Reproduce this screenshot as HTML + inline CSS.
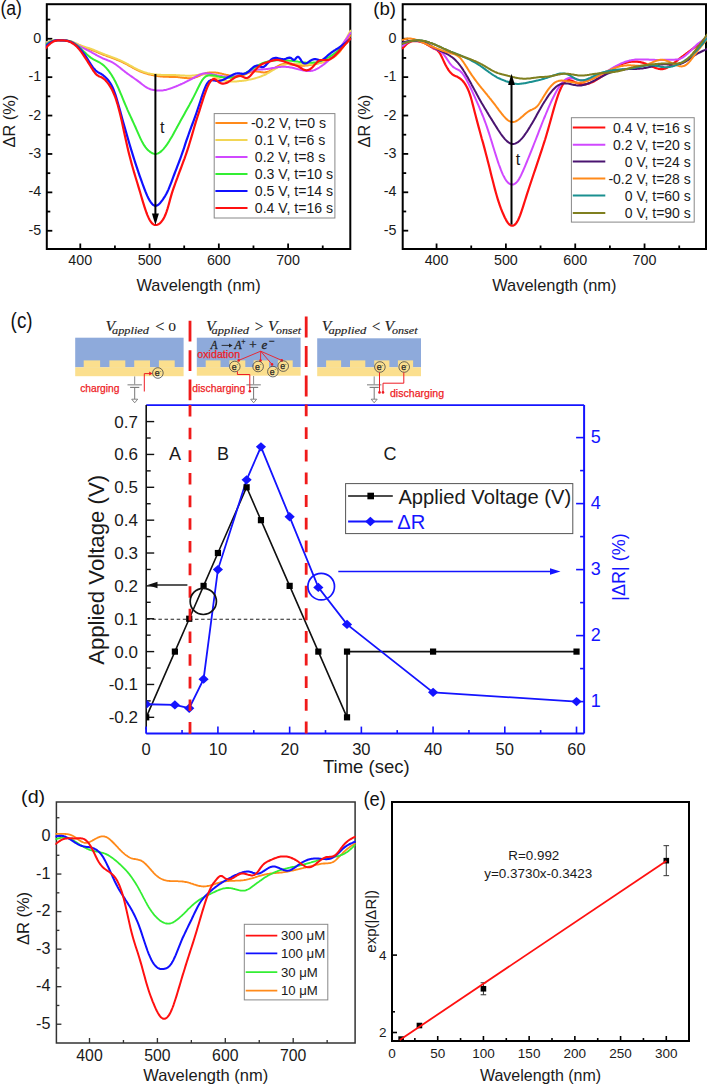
<!DOCTYPE html>
<html><head><meta charset="utf-8"><style>
html,body{margin:0;padding:0;background:#fff;width:708px;height:1086px;overflow:hidden;}
svg{display:block;font-family:"Liberation Sans",sans-serif;}
</style></head><body>
<svg width="708" height="1086" viewBox="0 0 708 1086">
<rect width="708" height="1086" fill="#fff"/>
<rect x="46.80" y="4.20" width="303.50" height="244.80" fill="none" stroke="#000" stroke-width="2.00"/>
<line x1="80.29" y1="249.00" x2="80.29" y2="243.50" stroke="#000" stroke-width="1.80" />
<text x="80.29" y="265.00" font-size="14.30" fill="#1a1a1a" text-anchor="middle">400</text>
<line x1="149.56" y1="249.00" x2="149.56" y2="243.50" stroke="#000" stroke-width="1.80" />
<text x="149.56" y="265.00" font-size="14.30" fill="#1a1a1a" text-anchor="middle">500</text>
<line x1="218.83" y1="249.00" x2="218.83" y2="243.50" stroke="#000" stroke-width="1.80" />
<text x="218.83" y="265.00" font-size="14.30" fill="#1a1a1a" text-anchor="middle">600</text>
<line x1="288.11" y1="249.00" x2="288.11" y2="243.50" stroke="#000" stroke-width="1.80" />
<text x="288.11" y="265.00" font-size="14.30" fill="#1a1a1a" text-anchor="middle">700</text>
<line x1="114.93" y1="249.00" x2="114.93" y2="245.50" stroke="#000" stroke-width="1.80" />
<line x1="184.20" y1="249.00" x2="184.20" y2="245.50" stroke="#000" stroke-width="1.80" />
<line x1="253.47" y1="249.00" x2="253.47" y2="245.50" stroke="#000" stroke-width="1.80" />
<line x1="322.74" y1="249.00" x2="322.74" y2="245.50" stroke="#000" stroke-width="1.80" />
<line x1="46.80" y1="19.56" x2="50.30" y2="19.56" stroke="#000" stroke-width="1.80" />
<line x1="46.80" y1="38.76" x2="52.30" y2="38.76" stroke="#000" stroke-width="1.80" />
<text x="41.20" y="42.86" font-size="14.30" fill="#1a1a1a" text-anchor="end">0</text>
<line x1="46.80" y1="57.96" x2="50.30" y2="57.96" stroke="#000" stroke-width="1.80" />
<line x1="46.80" y1="77.16" x2="52.30" y2="77.16" stroke="#000" stroke-width="1.80" />
<text x="41.20" y="81.26" font-size="14.30" fill="#1a1a1a" text-anchor="end">-1</text>
<line x1="46.80" y1="96.36" x2="50.30" y2="96.36" stroke="#000" stroke-width="1.80" />
<line x1="46.80" y1="115.56" x2="52.30" y2="115.56" stroke="#000" stroke-width="1.80" />
<text x="41.20" y="119.66" font-size="14.30" fill="#1a1a1a" text-anchor="end">-2</text>
<line x1="46.80" y1="134.76" x2="50.30" y2="134.76" stroke="#000" stroke-width="1.80" />
<line x1="46.80" y1="153.96" x2="52.30" y2="153.96" stroke="#000" stroke-width="1.80" />
<text x="41.20" y="158.06" font-size="14.30" fill="#1a1a1a" text-anchor="end">-3</text>
<line x1="46.80" y1="173.17" x2="50.30" y2="173.17" stroke="#000" stroke-width="1.80" />
<line x1="46.80" y1="192.37" x2="52.30" y2="192.37" stroke="#000" stroke-width="1.80" />
<text x="41.20" y="196.47" font-size="14.30" fill="#1a1a1a" text-anchor="end">-4</text>
<line x1="46.80" y1="211.57" x2="50.30" y2="211.57" stroke="#000" stroke-width="1.80" />
<line x1="46.80" y1="230.77" x2="52.30" y2="230.77" stroke="#000" stroke-width="1.80" />
<text x="41.20" y="234.87" font-size="14.30" fill="#1a1a1a" text-anchor="end">-5</text>
<clipPath id="clip46_4"><rect x="45.80" y="1.20" width="305.50" height="247.80"/></clipPath>
<g clip-path="url(#clip46_4)" fill="none" stroke-linejoin="round" stroke-linecap="round">
<path d="M45.4,43.4 46.4,43.0 47.4,42.6 48.4,42.2 49.4,41.9 50.4,41.6 51.4,41.3 52.4,41.0 53.4,40.8 54.4,40.6 55.4,40.5 56.4,40.4 57.4,40.3 58.4,40.3 59.4,40.3 60.4,40.3 61.4,40.3 62.4,40.3 63.4,40.4 64.4,40.5 65.4,40.5 66.4,40.7 67.4,40.8 68.4,41.0 69.4,41.2 70.4,41.5 71.4,41.8 72.4,42.2 73.4,42.6 74.4,43.0 75.4,43.5 76.4,43.9 77.4,44.4 78.4,44.9 79.4,45.3 80.4,45.7 81.4,46.1 82.4,46.5 83.4,46.9 84.4,47.3 85.4,47.6 86.4,48.0 87.4,48.3 88.4,48.7 89.4,49.0 90.4,49.4 91.4,49.8 92.4,50.2 93.4,50.6 94.4,51.0 95.4,51.4 96.4,51.8 97.4,52.2 98.4,52.7 99.4,53.1 100.4,53.5 101.4,53.9 102.4,54.3 103.4,54.7 104.4,55.1 105.4,55.4 106.4,55.8 107.4,56.2 108.4,56.5 109.4,56.9 110.4,57.3 111.4,57.6 112.4,58.0 113.4,58.4 114.4,58.8 115.4,59.1 116.4,59.5 117.4,60.0 118.4,60.4 119.4,60.8 120.4,61.2 121.4,61.7 122.4,62.2 123.4,62.7 124.4,63.1 125.4,63.7 126.4,64.2 127.4,64.7 128.4,65.3 129.4,65.8 130.4,66.4 131.4,66.9 132.4,67.5 133.4,68.0 134.4,68.6 135.4,69.1 136.4,69.6 137.4,70.1 138.4,70.6 139.4,71.0 140.4,71.5 141.4,71.9 142.4,72.3 143.4,72.6 144.4,73.0 145.4,73.3 146.4,73.6 147.4,73.9 148.4,74.2 149.4,74.4 150.4,74.6 151.4,74.9 152.4,75.1 153.4,75.3 154.4,75.5 155.4,75.6 156.4,75.8 157.4,76.0 158.4,76.2 159.4,76.3 160.4,76.4 161.4,76.6 162.4,76.6 163.4,76.7 164.4,76.8 165.4,76.8 166.4,76.8 167.4,76.8 168.4,76.8 169.4,76.9 170.4,76.9 171.4,76.9 172.4,76.9 173.4,76.9 174.4,76.9 175.4,77.0 176.4,77.0 177.4,77.1 178.4,77.2 179.4,77.3 180.4,77.4 181.4,77.5 182.4,77.7 183.4,77.8 184.4,77.9 185.4,78.0 186.4,78.1 187.4,78.2 188.4,78.3 189.4,78.3 190.4,78.3 191.4,78.2 192.4,78.1 193.4,77.9 194.4,77.7 195.4,77.4 196.4,77.1 197.4,76.7 198.4,76.2 199.4,75.8 200.4,75.3 201.4,74.9 202.4,74.4 203.4,74.0 204.4,73.6 205.4,73.3 206.4,73.1 207.4,72.8 208.4,72.7 209.4,72.5 210.4,72.4 211.4,72.4 212.4,72.4 213.4,72.4 214.4,72.5 215.4,72.6 216.4,72.7 217.4,72.8 218.4,73.0 219.4,73.2 220.4,73.4 221.4,73.6 222.4,73.9 223.4,74.1 224.4,74.4 225.4,74.6 226.4,74.9 227.4,75.1 228.4,75.3 229.4,75.6 230.4,75.8 231.4,76.0 232.4,76.2 233.4,76.3 234.4,76.4 235.4,76.5 236.4,76.5 237.4,76.5 238.4,76.4 239.4,76.3 240.4,76.1 241.4,75.8 242.4,75.5 243.4,75.1 244.4,74.7 245.4,74.2 246.4,73.8 247.4,73.3 248.4,72.9 249.4,72.5 250.4,72.1 251.4,71.8 252.4,71.6 253.4,71.4 254.4,71.3 255.4,71.3 256.4,71.4 257.4,71.5 258.4,71.7 259.4,71.8 260.4,72.0 261.4,72.2 262.4,72.3 263.4,72.4 264.4,72.4 265.4,72.3 266.4,72.1 267.4,71.9 268.4,71.5 269.4,71.1 270.4,70.6 271.4,70.0 272.4,69.4 273.4,68.8 274.4,68.2 275.4,67.6 276.4,66.9 277.4,66.4 278.4,65.8 279.4,65.3 280.4,64.9 281.4,64.5 282.4,64.3 283.4,64.1 284.4,64.0 285.4,63.9 286.4,63.9 287.4,64.0 288.4,64.1 289.4,64.3 290.4,64.4 291.4,64.6 292.4,64.8 293.4,64.9 294.4,65.1 295.4,65.2 296.4,65.3 297.4,65.4 298.4,65.5 299.4,65.6 300.4,65.7 301.4,65.7 302.4,65.7 303.4,65.7 304.4,65.7 305.4,65.6 306.4,65.5 307.4,65.4 308.4,65.3 309.4,65.1 310.4,64.9 311.4,64.8 312.4,64.6 313.4,64.4 314.4,64.2 315.4,63.9 316.4,63.7 317.4,63.5 318.4,63.2 319.4,63.0 320.4,62.8 321.4,62.5 322.4,62.2 323.4,61.9 324.4,61.6 325.4,61.3 326.4,60.9 327.4,60.5 328.4,60.1 329.4,59.6 330.4,59.1 331.4,58.6 332.4,58.0 333.4,57.4 334.4,56.6 335.4,55.9 336.4,55.0 337.4,54.1 338.4,53.1 339.4,52.0 340.4,50.8 341.4,49.5 342.4,48.1 343.4,46.7 344.4,45.2 345.4,43.6 346.4,42.0 347.4,40.4 348.4,38.7 349.4,37.0 350.4,35.3" stroke="#ff8a1a" stroke-width="2.00"/>
<path d="M45.4,42.6 46.4,42.3 47.4,41.9 48.4,41.6 49.4,41.3 50.4,41.1 51.4,40.8 52.4,40.6 53.4,40.5 54.4,40.4 55.4,40.3 56.4,40.3 57.4,40.3 58.4,40.3 59.4,40.3 60.4,40.3 61.4,40.3 62.4,40.3 63.4,40.3 64.4,40.4 65.4,40.4 66.4,40.5 67.4,40.6 68.4,40.7 69.4,40.9 70.4,41.1 71.4,41.4 72.4,41.8 73.4,42.2 74.4,42.6 75.4,43.1 76.4,43.5 77.4,44.0 78.4,44.5 79.4,44.9 80.4,45.3 81.4,45.7 82.4,46.1 83.4,46.4 84.4,46.7 85.4,47.1 86.4,47.4 87.4,47.7 88.4,48.0 89.4,48.3 90.4,48.6 91.4,49.0 92.4,49.4 93.4,49.8 94.4,50.2 95.4,50.6 96.4,51.0 97.4,51.4 98.4,51.9 99.4,52.3 100.4,52.7 101.4,53.1 102.4,53.5 103.4,53.9 104.4,54.3 105.4,54.7 106.4,55.0 107.4,55.4 108.4,55.8 109.4,56.1 110.4,56.5 111.4,56.9 112.4,57.2 113.4,57.6 114.4,58.0 115.4,58.4 116.4,58.8 117.4,59.2 118.4,59.6 119.4,60.0 120.4,60.5 121.4,60.9 122.4,61.4 123.4,61.9 124.4,62.4 125.4,62.9 126.4,63.4 127.4,64.0 128.4,64.5 129.4,65.1 130.4,65.6 131.4,66.2 132.4,66.7 133.4,67.3 134.4,67.8 135.4,68.3 136.4,68.9 137.4,69.3 138.4,69.8 139.4,70.3 140.4,70.7 141.4,71.1 142.4,71.5 143.4,71.9 144.4,72.2 145.4,72.6 146.4,72.8 147.4,73.1 148.4,73.4 149.4,73.6 150.4,73.8 151.4,73.9 152.4,74.1 153.4,74.2 154.4,74.4 155.4,74.5 156.4,74.6 157.4,74.7 158.4,74.7 159.4,74.8 160.4,74.8 161.4,74.9 162.4,74.9 163.4,75.0 164.4,75.0 165.4,75.0 166.4,75.0 167.4,75.0 168.4,75.0 169.4,75.0 170.4,75.0 171.4,75.1 172.4,75.1 173.4,75.1 174.4,75.1 175.4,75.1 176.4,75.2 177.4,75.2 178.4,75.2 179.4,75.3 180.4,75.4 181.4,75.4 182.4,75.5 183.4,75.6 184.4,75.6 185.4,75.7 186.4,75.7 187.4,75.8 188.4,75.8 189.4,75.8 190.4,75.7 191.4,75.7 192.4,75.6 193.4,75.5 194.4,75.4 195.4,75.2 196.4,75.1 197.4,74.9 198.4,74.8 199.4,74.6 200.4,74.5 201.4,74.4 202.4,74.4 203.4,74.3 204.4,74.3 205.4,74.4 206.4,74.5 207.4,74.7 208.4,74.9 209.4,75.2 210.4,75.5 211.4,75.9 212.4,76.2 213.4,76.6 214.4,77.0 215.4,77.5 216.4,77.9 217.4,78.3 218.4,78.7 219.4,79.1 220.4,79.5 221.4,79.8 222.4,80.1 223.4,80.4 224.4,80.6 225.4,80.8 226.4,81.0 227.4,81.1 228.4,81.3 229.4,81.4 230.4,81.4 231.4,81.5 232.4,81.5 233.4,81.5 234.4,81.5 235.4,81.4 236.4,81.4 237.4,81.3 238.4,81.2 239.4,81.1 240.4,81.0 241.4,80.9 242.4,80.8 243.4,80.7 244.4,80.5 245.4,80.4 246.4,80.2 247.4,80.0 248.4,79.8 249.4,79.6 250.4,79.4 251.4,79.2 252.4,79.0 253.4,78.7 254.4,78.5 255.4,78.2 256.4,77.9 257.4,77.6 258.4,77.3 259.4,77.0 260.4,76.6 261.4,76.2 262.4,75.8 263.4,75.4 264.4,75.0 265.4,74.5 266.4,74.0 267.4,73.4 268.4,72.9 269.4,72.3 270.4,71.7 271.4,71.1 272.4,70.5 273.4,69.9 274.4,69.3 275.4,68.7 276.4,68.1 277.4,67.6 278.4,67.0 279.4,66.6 280.4,66.1 281.4,65.7 282.4,65.3 283.4,65.0 284.4,64.7 285.4,64.5 286.4,64.2 287.4,64.1 288.4,63.9 289.4,63.8 290.4,63.8 291.4,63.7 292.4,63.7 293.4,63.7 294.4,63.8 295.4,63.8 296.4,63.9 297.4,63.9 298.4,64.0 299.4,64.1 300.4,64.2 301.4,64.3 302.4,64.4 303.4,64.4 304.4,64.5 305.4,64.5 306.4,64.5 307.4,64.5 308.4,64.5 309.4,64.5 310.4,64.4 311.4,64.4 312.4,64.3 313.4,64.1 314.4,64.0 315.4,63.9 316.4,63.7 317.4,63.5 318.4,63.3 319.4,63.1 320.4,62.8 321.4,62.6 322.4,62.2 323.4,61.9 324.4,61.5 325.4,61.1 326.4,60.7 327.4,60.2 328.4,59.6 329.4,59.1 330.4,58.4 331.4,57.8 332.4,57.0 333.4,56.2 334.4,55.3 335.4,54.4 336.4,53.3 337.4,52.2 338.4,51.0 339.4,49.7 340.4,48.3 341.4,46.8 342.4,45.2 343.4,43.6 344.4,41.8 345.4,40.1 346.4,38.2 347.4,36.4 348.4,34.5 349.4,32.6 350.4,30.7" stroke="#f2d655" stroke-width="2.00"/>
<path d="M45.4,43.8 46.4,43.3 47.4,42.8 48.4,42.4 49.4,42.0 50.4,41.6 51.4,41.3 52.4,41.0 53.4,40.8 54.4,40.6 55.4,40.5 56.4,40.4 57.4,40.3 58.4,40.3 59.4,40.3 60.4,40.3 61.4,40.3 62.4,40.3 63.4,40.4 64.4,40.4 65.4,40.5 66.4,40.6 67.4,40.7 68.4,40.9 69.4,41.2 70.4,41.5 71.4,41.8 72.4,42.2 73.4,42.7 74.4,43.2 75.4,43.8 76.4,44.4 77.4,44.9 78.4,45.5 79.4,46.1 80.4,46.6 81.4,47.2 82.4,47.7 83.4,48.2 84.4,48.7 85.4,49.2 86.4,49.7 87.4,50.1 88.4,50.6 89.4,51.1 90.4,51.7 91.4,52.2 92.4,52.8 93.4,53.3 94.4,53.9 95.4,54.5 96.4,55.0 97.4,55.6 98.4,56.1 99.4,56.7 100.4,57.2 101.4,57.7 102.4,58.2 103.4,58.6 104.4,59.0 105.4,59.4 106.4,59.8 107.4,60.2 108.4,60.6 109.4,61.0 110.4,61.4 111.4,61.9 112.4,62.4 113.4,63.0 114.4,63.6 115.4,64.3 116.4,65.0 117.4,65.7 118.4,66.5 119.4,67.2 120.4,68.0 121.4,68.9 122.4,69.7 123.4,70.5 124.4,71.3 125.4,72.1 126.4,72.8 127.4,73.6 128.4,74.3 129.4,75.0 130.4,75.7 131.4,76.4 132.4,77.1 133.4,77.8 134.4,78.5 135.4,79.2 136.4,79.9 137.4,80.6 138.4,81.4 139.4,82.1 140.4,82.9 141.4,83.7 142.4,84.5 143.4,85.2 144.4,86.0 145.4,86.7 146.4,87.3 147.4,87.9 148.4,88.4 149.4,88.8 150.4,89.2 151.4,89.5 152.4,89.7 153.4,89.9 154.4,90.1 155.4,90.3 156.4,90.4 157.4,90.5 158.4,90.6 159.4,90.6 160.4,90.6 161.4,90.5 162.4,90.4 163.4,90.3 164.4,90.1 165.4,89.9 166.4,89.7 167.4,89.4 168.4,89.1 169.4,88.8 170.4,88.5 171.4,88.1 172.4,87.8 173.4,87.4 174.4,87.0 175.4,86.6 176.4,86.2 177.4,85.8 178.4,85.4 179.4,84.9 180.4,84.5 181.4,84.0 182.4,83.6 183.4,83.1 184.4,82.7 185.4,82.2 186.4,81.7 187.4,81.2 188.4,80.7 189.4,80.2 190.4,79.6 191.4,79.1 192.4,78.6 193.4,78.0 194.4,77.5 195.4,76.9 196.4,76.4 197.4,75.9 198.4,75.4 199.4,74.9 200.4,74.5 201.4,74.1 202.4,73.8 203.4,73.6 204.4,73.4 205.4,73.3 206.4,73.3 207.4,73.4 208.4,73.5 209.4,73.6 210.4,73.8 211.4,74.0 212.4,74.3 213.4,74.5 214.4,74.7 215.4,74.9 216.4,75.1 217.4,75.4 218.4,75.6 219.4,75.8 220.4,75.9 221.4,76.1 222.4,76.3 223.4,76.4 224.4,76.5 225.4,76.6 226.4,76.7 227.4,76.8 228.4,76.8 229.4,76.8 230.4,76.8 231.4,76.7 232.4,76.6 233.4,76.5 234.4,76.4 235.4,76.2 236.4,76.0 237.4,75.8 238.4,75.5 239.4,75.3 240.4,75.0 241.4,74.6 242.4,74.3 243.4,73.9 244.4,73.5 245.4,73.1 246.4,72.7 247.4,72.3 248.4,71.9 249.4,71.5 250.4,71.1 251.4,70.8 252.4,70.5 253.4,70.3 254.4,70.0 255.4,69.9 256.4,69.7 257.4,69.6 258.4,69.6 259.4,69.5 260.4,69.4 261.4,69.4 262.4,69.4 263.4,69.3 264.4,69.2 265.4,69.2 266.4,69.1 267.4,69.0 268.4,68.8 269.4,68.7 270.4,68.5 271.4,68.3 272.4,68.1 273.4,67.9 274.4,67.8 275.4,67.6 276.4,67.4 277.4,67.2 278.4,67.1 279.4,67.0 280.4,66.9 281.4,66.8 282.4,66.8 283.4,66.7 284.4,66.8 285.4,66.8 286.4,66.9 287.4,67.0 288.4,67.1 289.4,67.2 290.4,67.4 291.4,67.6 292.4,67.8 293.4,68.0 294.4,68.2 295.4,68.5 296.4,68.7 297.4,69.0 298.4,69.2 299.4,69.5 300.4,69.7 301.4,70.0 302.4,70.2 303.4,70.4 304.4,70.6 305.4,70.7 306.4,70.9 307.4,71.0 308.4,71.0 309.4,71.0 310.4,71.0 311.4,70.8 312.4,70.7 313.4,70.4 314.4,70.1 315.4,69.7 316.4,69.2 317.4,68.7 318.4,68.1 319.4,67.5 320.4,66.8 321.4,66.1 322.4,65.4 323.4,64.7 324.4,63.9 325.4,63.1 326.4,62.3 327.4,61.4 328.4,60.5 329.4,59.6 330.4,58.7 331.4,57.7 332.4,56.7 333.4,55.6 334.4,54.5 335.4,53.4 336.4,52.2 337.4,51.0 338.4,49.7 339.4,48.4 340.4,47.1 341.4,45.8 342.4,44.4 343.4,43.0 344.4,41.6 345.4,40.2 346.4,38.8 347.4,37.4 348.4,35.9 349.4,34.5 350.4,33.0" stroke="#d048ff" stroke-width="2.00"/>
<path d="M45.4,44.5 46.4,43.9 47.4,43.3 48.4,42.8 49.4,42.2 50.4,41.8 51.4,41.3 52.4,41.0 53.4,40.7 54.4,40.5 55.4,40.4 56.4,40.3 57.4,40.3 58.4,40.2 59.4,40.2 60.4,40.3 61.4,40.3 62.4,40.3 63.4,40.4 64.4,40.4 65.4,40.5 66.4,40.6 67.4,40.7 68.4,40.9 69.4,41.1 70.4,41.4 71.4,41.8 72.4,42.3 73.4,42.8 74.4,43.4 75.4,44.1 76.4,44.8 77.4,45.6 78.4,46.4 79.4,47.3 80.4,48.2 81.4,49.1 82.4,50.1 83.4,51.1 84.4,52.1 85.4,53.0 86.4,54.0 87.4,54.9 88.4,55.8 89.4,56.6 90.4,57.4 91.4,58.1 92.4,58.7 93.4,59.3 94.4,59.8 95.4,60.3 96.4,60.8 97.4,61.3 98.4,61.9 99.4,62.4 100.4,63.0 101.4,63.7 102.4,64.4 103.4,65.2 104.4,66.1 105.4,67.1 106.4,68.2 107.4,69.3 108.4,70.5 109.4,71.9 110.4,73.3 111.4,74.8 112.4,76.4 113.4,78.1 114.4,79.9 115.4,81.8 116.4,83.9 117.4,86.0 118.4,88.2 119.4,90.5 120.4,92.9 121.4,95.2 122.4,97.6 123.4,100.1 124.4,102.5 125.4,104.9 126.4,107.2 127.4,109.6 128.4,111.8 129.4,114.0 130.4,116.2 131.4,118.3 132.4,120.5 133.4,122.6 134.4,124.8 135.4,127.0 136.4,129.3 137.4,131.6 138.4,133.9 139.4,136.1 140.4,138.3 141.4,140.4 142.4,142.3 143.4,144.1 144.4,145.7 145.4,147.1 146.4,148.4 147.4,149.5 148.4,150.5 149.4,151.3 150.4,152.1 151.4,152.7 152.4,153.3 153.4,153.6 154.4,153.9 155.4,154.0 156.4,153.9 157.4,153.6 158.4,153.2 159.4,152.6 160.4,151.9 161.4,151.1 162.4,150.1 163.4,149.1 164.4,147.9 165.4,146.7 166.4,145.3 167.4,143.9 168.4,142.4 169.4,140.8 170.4,139.1 171.4,137.4 172.4,135.7 173.4,133.9 174.4,132.1 175.4,130.3 176.4,128.4 177.4,126.6 178.4,124.7 179.4,122.9 180.4,121.1 181.4,119.3 182.4,117.5 183.4,115.7 184.4,113.9 185.4,112.1 186.4,110.3 187.4,108.5 188.4,106.7 189.4,104.9 190.4,103.0 191.4,101.2 192.4,99.3 193.4,97.4 194.4,95.4 195.4,93.4 196.4,91.4 197.4,89.3 198.4,87.3 199.4,85.3 200.4,83.3 201.4,81.5 202.4,79.9 203.4,78.6 204.4,77.5 205.4,76.7 206.4,76.1 207.4,75.7 208.4,75.4 209.4,75.3 210.4,75.2 211.4,75.2 212.4,75.3 213.4,75.4 214.4,75.6 215.4,75.8 216.4,76.0 217.4,76.2 218.4,76.4 219.4,76.7 220.4,76.9 221.4,77.1 222.4,77.3 223.4,77.5 224.4,77.6 225.4,77.7 226.4,77.7 227.4,77.8 228.4,77.8 229.4,77.8 230.4,77.7 231.4,77.6 232.4,77.5 233.4,77.3 234.4,77.1 235.4,76.9 236.4,76.7 237.4,76.4 238.4,76.1 239.4,75.7 240.4,75.4 241.4,75.0 242.4,74.5 243.4,74.1 244.4,73.6 245.4,73.1 246.4,72.5 247.4,72.0 248.4,71.4 249.4,70.8 250.4,70.2 251.4,69.5 252.4,68.9 253.4,68.3 254.4,67.6 255.4,67.0 256.4,66.4 257.4,65.8 258.4,65.2 259.4,64.7 260.4,64.2 261.4,63.7 262.4,63.3 263.4,62.9 264.4,62.5 265.4,62.2 266.4,61.9 267.4,61.6 268.4,61.4 269.4,61.2 270.4,61.0 271.4,60.8 272.4,60.7 273.4,60.6 274.4,60.5 275.4,60.4 276.4,60.3 277.4,60.3 278.4,60.3 279.4,60.3 280.4,60.3 281.4,60.3 282.4,60.3 283.4,60.3 284.4,60.3 285.4,60.4 286.4,60.4 287.4,60.5 288.4,60.6 289.4,60.7 290.4,60.7 291.4,60.8 292.4,60.9 293.4,61.1 294.4,61.2 295.4,61.3 296.4,61.5 297.4,61.6 298.4,61.8 299.4,61.9 300.4,62.0 301.4,62.2 302.4,62.3 303.4,62.4 304.4,62.5 305.4,62.6 306.4,62.7 307.4,62.8 308.4,62.8 309.4,62.8 310.4,62.8 311.4,62.8 312.4,62.7 313.4,62.6 314.4,62.5 315.4,62.4 316.4,62.2 317.4,61.9 318.4,61.7 319.4,61.4 320.4,61.0 321.4,60.7 322.4,60.3 323.4,59.9 324.4,59.4 325.4,58.9 326.4,58.4 327.4,57.9 328.4,57.3 329.4,56.8 330.4,56.2 331.4,55.5 332.4,54.9 333.4,54.2 334.4,53.5 335.4,52.8 336.4,52.1 337.4,51.3 338.4,50.5 339.4,49.6 340.4,48.7 341.4,47.8 342.4,46.9 343.4,45.9 344.4,44.9 345.4,43.9 346.4,42.9 347.4,41.9 348.4,40.9 349.4,39.8 350.4,38.8" stroke="#33ee33" stroke-width="2.00"/>
<path d="M45.4,46.4 46.4,45.6 47.4,44.7 48.4,43.9 49.4,43.2 50.4,42.5 51.4,41.9 52.4,41.4 53.4,41.0 54.4,40.7 55.4,40.4 56.4,40.3 57.4,40.2 58.4,40.2 59.4,40.2 60.4,40.3 61.4,40.3 62.4,40.3 63.4,40.4 64.4,40.5 65.4,40.6 66.4,40.7 67.4,40.9 68.4,41.1 69.4,41.4 70.4,41.8 71.4,42.2 72.4,42.7 73.4,43.3 74.4,44.0 75.4,44.8 76.4,45.6 77.4,46.5 78.4,47.4 79.4,48.4 80.4,49.5 81.4,50.6 82.4,51.8 83.4,53.1 84.4,54.4 85.4,55.8 86.4,57.3 87.4,58.9 88.4,60.5 89.4,62.1 90.4,63.7 91.4,65.2 92.4,66.6 93.4,67.9 94.4,69.1 95.4,70.2 96.4,71.1 97.4,71.9 98.4,72.5 99.4,73.0 100.4,73.6 101.4,74.1 102.4,74.7 103.4,75.5 104.4,76.3 105.4,77.2 106.4,78.2 107.4,79.3 108.4,80.5 109.4,81.9 110.4,83.3 111.4,85.0 112.4,87.0 113.4,89.2 114.4,91.8 115.4,94.7 116.4,97.9 117.4,101.2 118.4,104.7 119.4,108.3 120.4,111.9 121.4,115.5 122.4,119.2 123.4,122.8 124.4,126.3 125.4,129.9 126.4,133.4 127.4,136.9 128.4,140.3 129.4,143.7 130.4,147.1 131.4,150.4 132.4,153.6 133.4,156.8 134.4,160.0 135.4,163.1 136.4,166.1 137.4,169.2 138.4,172.1 139.4,175.1 140.4,177.9 141.4,180.7 142.4,183.5 143.4,186.2 144.4,188.8 145.4,191.4 146.4,193.8 147.4,196.1 148.4,198.2 149.4,200.1 150.4,201.7 151.4,203.1 152.4,204.2 153.4,205.1 154.4,205.6 155.4,205.8 156.4,205.7 157.4,205.3 158.4,204.6 159.4,203.7 160.4,202.7 161.4,201.4 162.4,200.1 163.4,198.7 164.4,197.2 165.4,195.5 166.4,193.7 167.4,191.7 168.4,189.6 169.4,187.2 170.4,184.7 171.4,182.1 172.4,179.4 173.4,176.7 174.4,174.0 175.4,171.4 176.4,168.8 177.4,166.2 178.4,163.6 179.4,161.0 180.4,158.3 181.4,155.5 182.4,152.7 183.4,149.8 184.4,146.8 185.4,143.7 186.4,140.7 187.4,137.8 188.4,135.0 189.4,132.2 190.4,129.4 191.4,126.7 192.4,124.0 193.4,121.3 194.4,118.6 195.4,115.8 196.4,113.0 197.4,110.1 198.4,107.1 199.4,104.1 200.4,101.0 201.4,97.9 202.4,94.9 203.4,92.0 204.4,89.3 205.4,86.9 206.4,84.8 207.4,83.1 208.4,81.8 209.4,80.9 210.4,80.4 211.4,80.2 212.4,80.2 213.4,80.4 214.4,80.5 215.4,80.7 216.4,80.9 217.4,81.0 218.4,81.0 219.4,80.9 220.4,80.7 221.4,80.4 222.4,80.1 223.4,79.7 224.4,79.2 225.4,78.7 226.4,78.2 227.4,77.6 228.4,77.0 229.4,76.5 230.4,75.9 231.4,75.4 232.4,74.9 233.4,74.4 234.4,74.0 235.4,73.7 236.4,73.5 237.4,73.4 238.4,73.3 239.4,73.4 240.4,73.5 241.4,73.6 242.4,73.8 243.4,73.8 244.4,73.7 245.4,73.5 246.4,73.0 247.4,72.4 248.4,71.6 249.4,70.8 250.4,69.8 251.4,68.9 252.4,68.0 253.4,67.2 254.4,66.5 255.4,66.0 256.4,65.7 257.4,65.7 258.4,65.9 259.4,66.3 260.4,66.8 261.4,67.1 262.4,67.2 263.4,66.9 264.4,66.4 265.4,65.6 266.4,64.6 267.4,63.5 268.4,62.4 269.4,61.3 270.4,60.3 271.4,59.4 272.4,58.8 273.4,58.3 274.4,58.0 275.4,57.9 276.4,57.9 277.4,58.0 278.4,58.3 279.4,58.5 280.4,58.8 281.4,59.1 282.4,59.2 283.4,59.3 284.4,59.2 285.4,59.0 286.4,58.6 287.4,58.1 288.4,57.8 289.4,57.6 290.4,57.8 291.4,58.3 292.4,59.2 293.4,59.8 294.4,59.8 295.4,59.0 296.4,57.8 297.4,56.9 298.4,56.9 299.4,57.8 300.4,59.2 301.4,60.8 302.4,62.2 303.4,63.1 304.4,63.5 305.4,63.5 306.4,63.2 307.4,62.7 308.4,62.1 309.4,61.4 310.4,60.7 311.4,60.1 312.4,59.7 313.4,59.3 314.4,59.1 315.4,59.1 316.4,59.3 317.4,59.6 318.4,59.9 319.4,60.2 320.4,60.3 321.4,60.2 322.4,59.8 323.4,59.2 324.4,58.5 325.4,57.6 326.4,56.7 327.4,55.8 328.4,54.9 329.4,54.1 330.4,53.3 331.4,52.5 332.4,51.8 333.4,51.2 334.4,50.5 335.4,49.9 336.4,49.2 337.4,48.6 338.4,48.0 339.4,47.3 340.4,46.6 341.4,45.9 342.4,45.2 343.4,44.4 344.4,43.6 345.4,42.8 346.4,42.0 347.4,41.2 348.4,40.4 349.4,39.6 350.4,38.8" stroke="#1010ff" stroke-width="2.20"/>
<path d="M45.4,48.4 46.4,47.3 47.4,46.3 48.4,45.3 49.4,44.4 50.4,43.5 51.4,42.7 52.4,42.1 53.4,41.6 54.4,41.1 55.4,40.8 56.4,40.6 57.4,40.4 58.4,40.3 59.4,40.3 60.4,40.3 61.4,40.3 62.4,40.3 63.4,40.4 64.4,40.5 65.4,40.6 66.4,40.8 67.4,41.0 68.4,41.3 69.4,41.7 70.4,42.1 71.4,42.6 72.4,43.2 73.4,43.8 74.4,44.5 75.4,45.4 76.4,46.3 77.4,47.3 78.4,48.4 79.4,49.6 80.4,50.9 81.4,52.2 82.4,53.7 83.4,55.1 84.4,56.6 85.4,58.2 86.4,59.7 87.4,61.2 88.4,62.8 89.4,64.3 90.4,65.9 91.4,67.6 92.4,69.2 93.4,70.8 94.4,72.2 95.4,73.5 96.4,74.6 97.4,75.3 98.4,75.9 99.4,76.4 100.4,76.8 101.4,77.2 102.4,77.8 103.4,78.5 104.4,79.3 105.4,80.3 106.4,81.4 107.4,82.6 108.4,83.9 109.4,85.4 110.4,86.9 111.4,88.6 112.4,90.5 113.4,92.7 114.4,95.0 115.4,97.7 116.4,100.6 117.4,103.8 118.4,107.4 119.4,111.2 120.4,115.3 121.4,119.6 122.4,124.1 123.4,128.8 124.4,133.4 125.4,138.0 126.4,142.5 127.4,146.9 128.4,151.2 129.4,155.2 130.4,159.1 131.4,162.9 132.4,166.5 133.4,170.0 134.4,173.4 135.4,176.7 136.4,180.0 137.4,183.3 138.4,186.6 139.4,189.9 140.4,193.3 141.4,196.7 142.4,200.1 143.4,203.4 144.4,206.6 145.4,209.6 146.4,212.5 147.4,215.1 148.4,217.4 149.4,219.5 150.4,221.2 151.4,222.6 152.4,223.7 153.4,224.4 154.4,224.8 155.4,225.0 156.4,225.0 157.4,224.7 158.4,224.3 159.4,223.6 160.4,222.8 161.4,221.7 162.4,220.4 163.4,218.9 164.4,217.0 165.4,214.8 166.4,212.1 167.4,209.1 168.4,205.7 169.4,202.1 170.4,198.4 171.4,194.9 172.4,191.6 173.4,188.6 174.4,185.8 175.4,183.0 176.4,180.3 177.4,177.7 178.4,174.9 179.4,172.2 180.4,169.5 181.4,166.8 182.4,164.1 183.4,161.4 184.4,158.8 185.4,156.0 186.4,153.2 187.4,150.2 188.4,147.1 189.4,143.8 190.4,140.5 191.4,137.1 192.4,133.6 193.4,130.2 194.4,126.8 195.4,123.4 196.4,120.2 197.4,117.0 198.4,113.9 199.4,110.8 200.4,107.7 201.4,104.5 202.4,101.4 203.4,98.2 204.4,95.2 205.4,92.3 206.4,89.6 207.4,87.1 208.4,85.0 209.4,83.1 210.4,81.6 211.4,80.4 212.4,79.6 213.4,79.1 214.4,79.1 215.4,79.5 216.4,80.1 217.4,81.0 218.4,81.8 219.4,82.5 220.4,83.0 221.4,83.4 222.4,83.6 223.4,83.6 224.4,83.5 225.4,83.2 226.4,82.9 227.4,82.4 228.4,81.9 229.4,81.3 230.4,80.6 231.4,79.9 232.4,79.2 233.4,78.5 234.4,77.9 235.4,77.3 236.4,76.7 237.4,76.3 238.4,76.0 239.4,75.9 240.4,76.0 241.4,76.2 242.4,76.6 243.4,77.1 244.4,77.5 245.4,77.9 246.4,78.0 247.4,77.8 248.4,77.4 249.4,76.6 250.4,75.7 251.4,74.6 252.4,73.4 253.4,72.2 254.4,71.0 255.4,69.9 256.4,68.8 257.4,67.8 258.4,66.8 259.4,66.0 260.4,65.2 261.4,64.6 262.4,64.1 263.4,63.6 264.4,63.2 265.4,62.8 266.4,62.5 267.4,62.2 268.4,61.9 269.4,61.6 270.4,61.3 271.4,60.9 272.4,60.6 273.4,60.4 274.4,60.1 275.4,60.0 276.4,59.9 277.4,59.9 278.4,60.0 279.4,60.1 280.4,60.4 281.4,60.6 282.4,60.9 283.4,61.3 284.4,61.6 285.4,61.9 286.4,62.3 287.4,62.6 288.4,62.9 289.4,63.3 290.4,63.6 291.4,63.9 292.4,64.3 293.4,64.6 294.4,64.9 295.4,65.3 296.4,65.6 297.4,66.1 298.4,66.5 299.4,67.1 300.4,67.7 301.4,68.3 302.4,68.9 303.4,69.4 304.4,69.9 305.4,70.2 306.4,70.3 307.4,70.2 308.4,70.0 309.4,69.6 310.4,69.0 311.4,68.2 312.4,67.3 313.4,66.2 314.4,65.1 315.4,64.0 316.4,62.9 317.4,62.0 318.4,61.2 319.4,60.6 320.4,60.2 321.4,60.0 322.4,60.0 323.4,60.0 324.4,60.0 325.4,60.1 326.4,60.1 327.4,60.0 328.4,59.8 329.4,59.4 330.4,58.9 331.4,58.3 332.4,57.6 333.4,56.8 334.4,56.0 335.4,55.0 336.4,54.0 337.4,53.0 338.4,51.9 339.4,50.8 340.4,49.7 341.4,48.6 342.4,47.5 343.4,46.4 344.4,45.3 345.4,44.2 346.4,43.1 347.4,42.1 348.4,41.0 349.4,39.9 350.4,38.8" stroke="#ff1010" stroke-width="2.20"/>
</g>
<text x="198.55" y="290.50" font-size="16.40" fill="#1a1a1a" text-anchor="middle">Wavelength (nm)</text>
<text transform="translate(14.50,121.10) rotate(-90)" font-size="16.40" fill="#1a1a1a" text-anchor="middle">&#916;R (%)</text>
<line x1="155.40" y1="74.00" x2="155.40" y2="214.00" stroke="#000" stroke-width="2.00" />
<polygon points="151.9,213.5 158.9,213.5 155.4,225" fill="#000"/>
<text x="160.10" y="133.00" font-size="16.00" fill="#1a1a1a" text-anchor="start" >t</text>
<rect x="214.20" y="113.60" width="120.70" height="104.40" fill="#fff" stroke="#888" stroke-width="1"/>
<line x1="215.40" y1="123.00" x2="247.50" y2="123.00" stroke="#ff8a1a" stroke-width="2.00" />
<text x="250.90" y="128.08" font-size="14.10" fill="#1a1a1a" text-anchor="start">-0.2 V, t=0 s</text>
<line x1="215.40" y1="140.10" x2="247.50" y2="140.10" stroke="#f2d655" stroke-width="2.00" />
<text x="250.90" y="145.18" font-size="14.10" fill="#1a1a1a" text-anchor="start">&#160;0.1 V, t=6 s</text>
<line x1="215.40" y1="157.10" x2="247.50" y2="157.10" stroke="#d048ff" stroke-width="2.00" />
<text x="250.90" y="162.18" font-size="14.10" fill="#1a1a1a" text-anchor="start">&#160;0.2 V, t=8 s</text>
<line x1="215.40" y1="174.10" x2="247.50" y2="174.10" stroke="#33ee33" stroke-width="2.00" />
<text x="250.90" y="179.18" font-size="14.10" fill="#1a1a1a" text-anchor="start">&#160;0.3 V, t=10 s</text>
<line x1="215.40" y1="191.00" x2="247.50" y2="191.00" stroke="#1010ff" stroke-width="2.00" />
<text x="250.90" y="196.08" font-size="14.10" fill="#1a1a1a" text-anchor="start">&#160;0.5 V, t=14 s</text>
<line x1="215.40" y1="208.00" x2="247.50" y2="208.00" stroke="#ff1010" stroke-width="2.00" />
<text x="250.90" y="213.08" font-size="14.10" fill="#1a1a1a" text-anchor="start">&#160;0.4 V, t=16 s</text>
<text x="0.45" y="15.43" font-size="19.40" fill="#111" textLength="21.55" lengthAdjust="spacingAndGlyphs">(a)</text>
<rect x="402.70" y="4.20" width="303.30" height="244.80" fill="none" stroke="#000" stroke-width="2.00"/>
<line x1="436.56" y1="249.00" x2="436.56" y2="243.50" stroke="#000" stroke-width="1.80" />
<text x="436.56" y="265.00" font-size="14.30" fill="#1a1a1a" text-anchor="middle">400</text>
<line x1="505.89" y1="249.00" x2="505.89" y2="243.50" stroke="#000" stroke-width="1.80" />
<text x="505.89" y="265.00" font-size="14.30" fill="#1a1a1a" text-anchor="middle">500</text>
<line x1="575.23" y1="249.00" x2="575.23" y2="243.50" stroke="#000" stroke-width="1.80" />
<text x="575.23" y="265.00" font-size="14.30" fill="#1a1a1a" text-anchor="middle">600</text>
<line x1="644.55" y1="249.00" x2="644.55" y2="243.50" stroke="#000" stroke-width="1.80" />
<text x="644.55" y="265.00" font-size="14.30" fill="#1a1a1a" text-anchor="middle">700</text>
<line x1="471.23" y1="249.00" x2="471.23" y2="245.50" stroke="#000" stroke-width="1.80" />
<line x1="540.56" y1="249.00" x2="540.56" y2="245.50" stroke="#000" stroke-width="1.80" />
<line x1="609.89" y1="249.00" x2="609.89" y2="245.50" stroke="#000" stroke-width="1.80" />
<line x1="679.22" y1="249.00" x2="679.22" y2="245.50" stroke="#000" stroke-width="1.80" />
<line x1="402.70" y1="19.55" x2="406.20" y2="19.55" stroke="#000" stroke-width="1.80" />
<line x1="402.70" y1="38.75" x2="408.20" y2="38.75" stroke="#000" stroke-width="1.80" />
<text x="396.50" y="42.85" font-size="14.30" fill="#1a1a1a" text-anchor="end">0</text>
<line x1="402.70" y1="57.94" x2="406.20" y2="57.94" stroke="#000" stroke-width="1.80" />
<line x1="402.70" y1="77.13" x2="408.20" y2="77.13" stroke="#000" stroke-width="1.80" />
<text x="396.50" y="81.23" font-size="14.30" fill="#1a1a1a" text-anchor="end">-1</text>
<line x1="402.70" y1="96.33" x2="406.20" y2="96.33" stroke="#000" stroke-width="1.80" />
<line x1="402.70" y1="115.52" x2="408.20" y2="115.52" stroke="#000" stroke-width="1.80" />
<text x="396.50" y="119.62" font-size="14.30" fill="#1a1a1a" text-anchor="end">-2</text>
<line x1="402.70" y1="134.71" x2="406.20" y2="134.71" stroke="#000" stroke-width="1.80" />
<line x1="402.70" y1="153.90" x2="408.20" y2="153.90" stroke="#000" stroke-width="1.80" />
<text x="396.50" y="158.00" font-size="14.30" fill="#1a1a1a" text-anchor="end">-3</text>
<line x1="402.70" y1="173.10" x2="406.20" y2="173.10" stroke="#000" stroke-width="1.80" />
<line x1="402.70" y1="192.29" x2="408.20" y2="192.29" stroke="#000" stroke-width="1.80" />
<text x="396.50" y="196.39" font-size="14.30" fill="#1a1a1a" text-anchor="end">-4</text>
<line x1="402.70" y1="211.48" x2="406.20" y2="211.48" stroke="#000" stroke-width="1.80" />
<line x1="402.70" y1="230.67" x2="408.20" y2="230.67" stroke="#000" stroke-width="1.80" />
<text x="396.50" y="234.77" font-size="14.30" fill="#1a1a1a" text-anchor="end">-5</text>
<clipPath id="clip402_4"><rect x="401.70" y="1.20" width="305.30" height="247.80"/></clipPath>
<g clip-path="url(#clip402_4)" fill="none" stroke-linejoin="round" stroke-linecap="round">
<path d="M402.6,48.3 403.6,47.3 404.6,46.2 405.6,45.2 406.6,44.3 407.6,43.4 408.6,42.7 409.6,42.2 410.6,41.7 411.6,41.4 412.6,41.2 413.6,41.1 414.6,41.1 415.6,41.1 416.6,41.1 417.6,41.2 418.6,41.4 419.6,41.6 420.7,41.8 421.7,42.1 422.7,42.4 423.7,42.8 424.7,43.3 425.7,43.8 426.7,44.4 427.7,44.9 428.7,45.5 429.7,46.1 430.7,46.7 431.7,47.3 432.7,47.9 433.7,48.4 434.7,48.9 435.7,49.3 436.7,49.9 437.7,50.6 438.7,51.6 439.7,53.0 440.7,54.8 441.7,56.8 442.7,58.9 443.7,61.1 444.7,63.2 445.7,65.2 446.7,67.0 447.7,68.7 448.7,70.3 449.7,71.6 450.7,72.8 451.8,73.8 452.8,74.6 453.8,75.3 454.8,75.8 455.8,76.2 456.8,76.6 457.8,77.1 458.8,77.7 459.8,78.3 460.8,79.1 461.8,80.0 462.8,81.0 463.8,82.2 464.8,83.6 465.8,85.2 466.8,87.0 467.8,89.0 468.8,91.4 469.8,94.1 470.8,97.2 471.8,100.8 472.8,104.6 473.8,108.5 474.8,112.4 475.8,116.3 476.8,120.1 477.8,123.9 478.8,127.6 479.8,131.3 480.8,135.0 481.8,138.7 482.9,142.4 483.9,146.1 484.9,149.9 485.9,153.7 486.9,157.5 487.9,161.4 488.9,165.3 489.9,169.3 490.9,173.4 491.9,177.4 492.9,181.3 493.9,185.3 494.9,189.1 495.9,192.8 496.9,196.3 497.9,199.6 498.9,202.7 499.9,205.6 500.9,208.4 501.9,210.9 502.9,213.3 503.9,215.5 504.9,217.7 505.9,219.6 506.9,221.4 507.9,222.9 508.9,224.1 509.9,224.9 510.9,225.5 511.9,225.7 512.9,225.6 514.0,225.2 515.0,224.5 516.0,223.4 517.0,222.0 518.0,220.2 519.0,218.0 520.0,215.6 521.0,212.8 522.0,209.9 523.0,206.8 524.0,203.7 525.0,200.5 526.0,197.3 527.0,194.2 528.0,191.1 529.0,188.0 530.0,185.0 531.0,182.0 532.0,179.0 533.0,176.0 534.0,173.0 535.0,170.1 536.0,167.1 537.0,164.1 538.0,161.2 539.0,158.2 540.0,155.2 541.0,152.1 542.0,149.1 543.0,146.0 544.0,142.8 545.1,139.5 546.1,136.2 547.1,132.8 548.1,129.4 549.1,125.8 550.1,122.2 551.1,118.6 552.1,115.0 553.1,111.4 554.1,107.9 555.1,104.5 556.1,101.2 557.1,98.1 558.1,95.2 559.1,92.4 560.1,90.0 561.1,87.7 562.1,85.8 563.1,84.1 564.1,82.7 565.1,81.6 566.1,80.9 567.1,80.4 568.1,80.2 569.1,80.2 570.1,80.3 571.1,80.5 572.1,80.9 573.1,81.3 574.1,81.7 575.1,82.2 576.2,82.6 577.2,83.1 578.2,83.5 579.2,83.8 580.2,84.1 581.2,84.2 582.2,84.3 583.2,84.4 584.2,84.4 585.2,84.3 586.2,84.1 587.2,83.9 588.2,83.7 589.2,83.4 590.2,83.0 591.2,82.6 592.2,82.2 593.2,81.7 594.2,81.2 595.2,80.6 596.2,80.1 597.2,79.4 598.2,78.8 599.2,78.2 600.2,77.5 601.2,76.8 602.2,76.2 603.2,75.5 604.2,74.8 605.2,74.1 606.2,73.4 607.3,72.6 608.3,71.9 609.3,71.3 610.3,70.6 611.3,69.9 612.3,69.2 613.3,68.6 614.3,68.0 615.3,67.3 616.3,66.8 617.3,66.2 618.3,65.7 619.3,65.2 620.3,64.7 621.3,64.3 622.3,63.9 623.3,63.5 624.3,63.2 625.3,62.9 626.3,62.6 627.3,62.4 628.3,62.2 629.3,62.0 630.3,61.8 631.3,61.7 632.3,61.7 633.3,61.6 634.3,61.6 635.3,61.6 636.3,61.6 637.3,61.7 638.4,61.8 639.4,62.0 640.4,62.1 641.4,62.4 642.4,62.6 643.4,62.9 644.4,63.2 645.4,63.6 646.4,64.0 647.4,64.4 648.4,64.8 649.4,65.3 650.4,65.8 651.4,66.2 652.4,66.7 653.4,67.1 654.4,67.5 655.4,67.9 656.4,68.2 657.4,68.5 658.4,68.8 659.4,69.0 660.4,69.1 661.4,69.1 662.4,69.1 663.4,68.9 664.4,68.7 665.4,68.4 666.4,68.0 667.4,67.5 668.4,67.0 669.5,66.4 670.5,65.7 671.5,65.0 672.5,64.3 673.5,63.5 674.5,62.7 675.5,61.9 676.5,61.1 677.5,60.3 678.5,59.5 679.5,58.7 680.5,57.9 681.5,57.1 682.5,56.3 683.5,55.6 684.5,54.8 685.5,54.1 686.5,53.3 687.5,52.6 688.5,51.8 689.5,51.1 690.5,50.4 691.5,49.6 692.5,48.9 693.5,48.2 694.5,47.4 695.5,46.7 696.5,46.0 697.5,45.2 698.5,44.5 699.6,43.7 700.6,43.0 701.6,42.2 702.6,41.5 703.6,40.8 704.6,40.0 705.6,39.3 706.6,38.5 707.6,37.7" stroke="#ff1010" stroke-width="2.20"/>
<path d="M402.6,46.0 403.6,45.2 404.6,44.4 405.6,43.7 406.6,43.0 407.6,42.4 408.6,41.9 409.6,41.5 410.6,41.3 411.6,41.1 412.6,41.1 413.6,41.0 414.6,41.0 415.6,41.1 416.6,41.1 417.6,41.1 418.6,41.2 419.6,41.3 420.7,41.4 421.7,41.6 422.7,41.9 423.7,42.2 424.7,42.5 425.7,43.0 426.7,43.5 427.7,44.1 428.7,44.7 429.7,45.4 430.7,46.0 431.7,46.7 432.7,47.3 433.7,47.9 434.7,48.5 435.7,49.0 436.7,49.5 437.7,49.9 438.7,50.5 439.7,51.0 440.7,51.7 441.7,52.5 442.7,53.4 443.7,54.5 444.7,55.8 445.7,57.2 446.7,58.6 447.7,60.2 448.7,61.6 449.7,63.1 450.7,64.4 451.8,65.6 452.8,66.6 453.8,67.4 454.8,68.0 455.8,68.6 456.8,69.1 457.8,69.6 458.8,70.1 459.8,70.8 460.8,71.7 461.8,72.7 462.8,74.0 463.8,75.3 464.8,76.9 465.8,78.5 466.8,80.3 467.8,82.2 468.8,84.1 469.8,86.2 470.8,88.3 471.8,90.4 472.8,92.6 473.8,94.8 474.8,97.1 475.8,99.3 476.8,101.6 477.8,103.9 478.8,106.2 479.8,108.6 480.8,111.0 481.8,113.5 482.9,116.0 483.9,118.6 484.9,121.3 485.9,124.0 486.9,126.9 487.9,129.8 488.9,132.9 489.9,136.0 490.9,139.2 491.9,142.4 492.9,145.7 493.9,149.0 494.9,152.2 495.9,155.4 496.9,158.5 497.9,161.6 498.9,164.5 499.9,167.2 500.9,169.9 501.9,172.3 502.9,174.6 503.9,176.6 504.9,178.4 505.9,180.1 506.9,181.4 507.9,182.5 508.9,183.4 509.9,184.0 510.9,184.4 511.9,184.6 512.9,184.5 514.0,184.2 515.0,183.7 516.0,182.9 517.0,181.9 518.0,180.6 519.0,179.1 520.0,177.3 521.0,175.4 522.0,173.2 523.0,171.0 524.0,168.7 525.0,166.3 526.0,163.9 527.0,161.5 528.0,159.0 529.0,156.6 530.0,154.1 531.0,151.6 532.0,149.1 533.0,146.6 534.0,144.0 535.0,141.5 536.0,139.0 537.0,136.4 538.0,133.8 539.0,131.2 540.0,128.7 541.0,126.1 542.0,123.5 543.0,121.0 544.0,118.5 545.1,116.0 546.1,113.5 547.1,111.1 548.1,108.7 549.1,106.4 550.1,104.2 551.1,101.9 552.1,99.8 553.1,97.7 554.1,95.7 555.1,93.8 556.1,91.9 557.1,90.1 558.1,88.4 559.1,86.9 560.1,85.4 561.1,84.0 562.1,82.7 563.1,81.6 564.1,80.6 565.1,79.8 566.1,79.1 567.1,78.6 568.1,78.2 569.1,78.0 570.1,78.0 571.1,78.0 572.1,78.2 573.1,78.4 574.1,78.6 575.1,78.9 576.2,79.3 577.2,79.6 578.2,79.8 579.2,80.1 580.2,80.3 581.2,80.4 582.2,80.5 583.2,80.5 584.2,80.5 585.2,80.4 586.2,80.3 587.2,80.2 588.2,80.0 589.2,79.7 590.2,79.5 591.2,79.2 592.2,78.8 593.2,78.5 594.2,78.1 595.2,77.6 596.2,77.2 597.2,76.7 598.2,76.2 599.2,75.7 600.2,75.2 601.2,74.6 602.2,74.1 603.2,73.5 604.2,72.9 605.2,72.3 606.2,71.7 607.3,71.1 608.3,70.5 609.3,69.9 610.3,69.3 611.3,68.7 612.3,68.1 613.3,67.5 614.3,67.0 615.3,66.4 616.3,65.8 617.3,65.3 618.3,64.8 619.3,64.3 620.3,63.8 621.3,63.4 622.3,63.0 623.3,62.6 624.3,62.2 625.3,61.8 626.3,61.5 627.3,61.2 628.3,60.9 629.3,60.6 630.3,60.4 631.3,60.2 632.3,60.0 633.3,59.9 634.3,59.7 635.3,59.6 636.3,59.5 637.3,59.5 638.4,59.4 639.4,59.4 640.4,59.4 641.4,59.4 642.4,59.4 643.4,59.4 644.4,59.4 645.4,59.5 646.4,59.5 647.4,59.6 648.4,59.6 649.4,59.7 650.4,59.7 651.4,59.7 652.4,59.8 653.4,59.8 654.4,59.8 655.4,59.9 656.4,59.9 657.4,59.9 658.4,59.9 659.4,59.9 660.4,59.9 661.4,59.9 662.4,59.9 663.4,59.8 664.4,59.8 665.4,59.8 666.4,59.8 667.4,59.8 668.4,59.8 669.5,59.8 670.5,59.8 671.5,59.8 672.5,59.8 673.5,59.8 674.5,59.7 675.5,59.6 676.5,59.5 677.5,59.4 678.5,59.2 679.5,58.9 680.5,58.5 681.5,58.1 682.5,57.6 683.5,56.9 684.5,56.2 685.5,55.5 686.5,54.6 687.5,53.7 688.5,52.8 689.5,51.9 690.5,50.9 691.5,49.9 692.5,48.9 693.5,47.9 694.5,46.9 695.5,46.0 696.5,45.0 697.5,44.1 698.5,43.3 699.6,42.5 700.6,41.7 701.6,41.0 702.6,40.2 703.6,39.5 704.6,38.8 705.6,38.2 706.6,37.5 707.6,36.8" stroke="#d048ff" stroke-width="2.00"/>
<path d="M402.6,42.6 403.6,42.3 404.6,42.0 405.6,41.8 406.6,41.5 407.6,41.3 408.6,41.1 409.6,40.9 410.6,40.8 411.6,40.7 412.6,40.7 413.6,40.7 414.6,40.7 415.6,40.7 416.6,40.7 417.6,40.8 418.6,40.9 419.6,41.1 420.7,41.3 421.7,41.5 422.7,41.8 423.7,42.2 424.7,42.5 425.7,43.0 426.7,43.5 427.7,44.0 428.7,44.6 429.7,45.1 430.7,45.7 431.7,46.3 432.7,46.9 433.7,47.5 434.7,48.1 435.7,48.6 436.7,49.1 437.7,49.6 438.7,50.1 439.7,50.5 440.7,51.0 441.7,51.4 442.7,51.9 443.7,52.4 444.7,52.8 445.7,53.3 446.7,53.9 447.7,54.4 448.7,55.0 449.7,55.6 450.7,56.3 451.8,57.0 452.8,57.8 453.8,58.6 454.8,59.5 455.8,60.5 456.8,61.6 457.8,62.7 458.8,63.9 459.8,65.2 460.8,66.5 461.8,67.9 462.8,69.4 463.8,71.0 464.8,72.5 465.8,74.2 466.8,75.9 467.8,77.6 468.8,79.4 469.8,81.2 470.8,83.0 471.8,84.9 472.8,86.7 473.8,88.6 474.8,90.5 475.8,92.3 476.8,94.2 477.8,96.1 478.8,97.9 479.8,99.7 480.8,101.5 481.8,103.3 482.9,105.0 483.9,106.7 484.9,108.4 485.9,110.1 486.9,111.8 487.9,113.4 488.9,115.1 489.9,116.7 490.9,118.3 491.9,119.9 492.9,121.5 493.9,123.1 494.9,124.7 495.9,126.3 496.9,127.9 497.9,129.5 498.9,131.0 499.9,132.5 500.9,134.0 501.9,135.3 502.9,136.7 503.9,137.9 504.9,139.1 505.9,140.1 506.9,141.1 507.9,141.9 508.9,142.6 509.9,143.2 510.9,143.6 511.9,143.9 512.9,144.0 514.0,143.9 515.0,143.6 516.0,143.2 517.0,142.7 518.0,142.1 519.0,141.3 520.0,140.4 521.0,139.4 522.0,138.3 523.0,137.1 524.0,135.8 525.0,134.4 526.0,133.0 527.0,131.6 528.0,130.0 529.0,128.4 530.0,126.8 531.0,125.1 532.0,123.4 533.0,121.7 534.0,120.0 535.0,118.2 536.0,116.4 537.0,114.6 538.0,112.8 539.0,111.0 540.0,109.3 541.0,107.5 542.0,105.8 543.0,104.1 544.0,102.4 545.1,100.8 546.1,99.2 547.1,97.6 548.1,96.1 549.1,94.7 550.1,93.4 551.1,92.1 552.1,90.9 553.1,89.7 554.1,88.7 555.1,87.7 556.1,86.8 557.1,86.0 558.1,85.4 559.1,84.8 560.1,84.3 561.1,83.9 562.1,83.7 563.1,83.5 564.1,83.4 565.1,83.4 566.1,83.4 567.1,83.5 568.1,83.6 569.1,83.8 570.1,84.0 571.1,84.2 572.1,84.5 573.1,84.7 574.1,84.9 575.1,85.1 576.2,85.3 577.2,85.4 578.2,85.5 579.2,85.5 580.2,85.5 581.2,85.4 582.2,85.2 583.2,85.1 584.2,84.8 585.2,84.5 586.2,84.2 587.2,83.9 588.2,83.5 589.2,83.0 590.2,82.6 591.2,82.1 592.2,81.6 593.2,81.1 594.2,80.6 595.2,80.1 596.2,79.5 597.2,79.0 598.2,78.5 599.2,77.9 600.2,77.4 601.2,76.9 602.2,76.3 603.2,75.8 604.2,75.3 605.2,74.8 606.2,74.3 607.3,73.9 608.3,73.4 609.3,73.0 610.3,72.6 611.3,72.2 612.3,71.8 613.3,71.5 614.3,71.2 615.3,70.9 616.3,70.6 617.3,70.4 618.3,70.2 619.3,70.0 620.3,69.8 621.3,69.7 622.3,69.5 623.3,69.4 624.3,69.4 625.3,69.3 626.3,69.2 627.3,69.2 628.3,69.1 629.3,69.1 630.3,69.1 631.3,69.0 632.3,69.0 633.3,69.0 634.3,68.9 635.3,68.9 636.3,68.9 637.3,68.8 638.4,68.8 639.4,68.7 640.4,68.6 641.4,68.5 642.4,68.4 643.4,68.3 644.4,68.1 645.4,68.0 646.4,67.8 647.4,67.6 648.4,67.3 649.4,67.1 650.4,66.9 651.4,66.6 652.4,66.4 653.4,66.1 654.4,65.9 655.4,65.6 656.4,65.4 657.4,65.2 658.4,65.0 659.4,64.8 660.4,64.6 661.4,64.5 662.4,64.4 663.4,64.3 664.4,64.3 665.4,64.3 666.4,64.3 667.4,64.4 668.4,64.4 669.5,64.5 670.5,64.5 671.5,64.6 672.5,64.6 673.5,64.6 674.5,64.6 675.5,64.6 676.5,64.5 677.5,64.4 678.5,64.3 679.5,64.1 680.5,63.9 681.5,63.5 682.5,63.1 683.5,62.7 684.5,62.2 685.5,61.6 686.5,61.0 687.5,60.4 688.5,59.7 689.5,59.0 690.5,58.3 691.5,57.6 692.5,56.9 693.5,56.2 694.5,55.5 695.5,54.9 696.5,54.2 697.5,53.6 698.5,53.0 699.6,52.5 700.6,52.0 701.6,51.5 702.6,51.0 703.6,50.5 704.6,50.1 705.6,49.6 706.6,49.2 707.6,48.8" stroke="#4a1470" stroke-width="2.00"/>
<path d="M402.6,39.9 403.6,39.6 404.6,39.3 405.6,39.0 406.6,38.8 407.6,38.6 408.6,38.5 409.6,38.5 410.6,38.6 411.6,38.7 412.6,38.9 413.6,39.1 414.6,39.3 415.6,39.6 416.6,40.0 417.6,40.3 418.6,40.7 419.6,41.1 420.7,41.5 421.7,42.0 422.7,42.4 423.7,42.9 424.7,43.3 425.7,43.8 426.7,44.2 427.7,44.6 428.7,45.1 429.7,45.5 430.7,46.0 431.7,46.4 432.7,46.8 433.7,47.2 434.7,47.7 435.7,48.1 436.7,48.5 437.7,48.9 438.7,49.2 439.7,49.6 440.7,50.0 441.7,50.3 442.7,50.7 443.7,51.0 444.7,51.4 445.7,51.7 446.7,52.0 447.7,52.3 448.7,52.6 449.7,52.9 450.7,53.2 451.8,53.5 452.8,53.7 453.8,54.0 454.8,54.4 455.8,54.8 456.8,55.3 457.8,55.9 458.8,56.7 459.8,57.6 460.8,58.7 461.8,60.0 462.8,61.3 463.8,62.8 464.8,64.3 465.8,65.9 466.8,67.4 467.8,69.0 468.8,70.6 469.8,72.1 470.8,73.6 471.8,75.1 472.8,76.5 473.8,77.9 474.8,79.3 475.8,80.7 476.8,82.0 477.8,83.3 478.8,84.6 479.8,85.9 480.8,87.1 481.8,88.4 482.9,89.6 483.9,90.9 484.9,92.1 485.9,93.3 486.9,94.5 487.9,95.8 488.9,97.0 489.9,98.3 490.9,99.5 491.9,100.8 492.9,102.1 493.9,103.4 494.9,104.7 495.9,106.0 496.9,107.4 497.9,108.7 498.9,110.1 499.9,111.4 500.9,112.7 501.9,114.0 502.9,115.2 503.9,116.4 504.9,117.4 505.9,118.5 506.9,119.4 507.9,120.2 508.9,120.9 509.9,121.4 510.9,121.8 511.9,122.0 512.9,122.0 514.0,121.9 515.0,121.6 516.0,121.2 517.0,120.6 518.0,120.0 519.0,119.3 520.0,118.5 521.0,117.6 522.0,116.8 523.0,115.9 524.0,115.0 525.0,114.1 526.0,113.3 527.0,112.5 528.0,111.8 529.0,111.1 530.0,110.5 531.0,110.0 532.0,109.6 533.0,109.1 534.0,108.6 535.0,108.1 536.0,107.3 537.0,106.4 538.0,105.3 539.0,104.0 540.0,102.5 541.0,100.9 542.0,99.3 543.0,97.6 544.0,95.9 545.1,94.2 546.1,92.6 547.1,91.1 548.1,89.7 549.1,88.4 550.1,87.1 551.1,86.0 552.1,84.9 553.1,84.0 554.1,83.1 555.1,82.4 556.1,81.9 557.1,81.4 558.1,81.1 559.1,80.8 560.1,80.7 561.1,80.6 562.1,80.6 563.1,80.7 564.1,80.8 565.1,80.9 566.1,81.1 567.1,81.3 568.1,81.4 569.1,81.6 570.1,81.8 571.1,82.0 572.1,82.2 573.1,82.3 574.1,82.5 575.1,82.6 576.2,82.7 577.2,82.7 578.2,82.7 579.2,82.7 580.2,82.6 581.2,82.5 582.2,82.4 583.2,82.2 584.2,81.9 585.2,81.7 586.2,81.4 587.2,81.0 588.2,80.7 589.2,80.3 590.2,79.9 591.2,79.4 592.2,79.0 593.2,78.5 594.2,78.0 595.2,77.5 596.2,77.0 597.2,76.5 598.2,76.0 599.2,75.4 600.2,74.9 601.2,74.4 602.2,73.8 603.2,73.3 604.2,72.8 605.2,72.2 606.2,71.7 607.3,71.2 608.3,70.8 609.3,70.3 610.3,69.8 611.3,69.4 612.3,69.0 613.3,68.6 614.3,68.2 615.3,67.8 616.3,67.5 617.3,67.2 618.3,66.9 619.3,66.6 620.3,66.3 621.3,66.1 622.3,65.9 623.3,65.7 624.3,65.6 625.3,65.5 626.3,65.4 627.3,65.3 628.3,65.3 629.3,65.3 630.3,65.3 631.3,65.4 632.3,65.4 633.3,65.5 634.3,65.6 635.3,65.7 636.3,65.7 637.3,65.8 638.4,65.8 639.4,65.9 640.4,65.9 641.4,65.8 642.4,65.7 643.4,65.6 644.4,65.4 645.4,65.2 646.4,64.9 647.4,64.5 648.4,64.1 649.4,63.7 650.4,63.3 651.4,62.8 652.4,62.4 653.4,61.9 654.4,61.5 655.4,61.1 656.4,60.8 657.4,60.4 658.4,60.2 659.4,60.0 660.4,59.8 661.4,59.8 662.4,59.8 663.4,59.9 664.4,60.1 665.4,60.4 666.4,60.7 667.4,61.1 668.4,61.5 669.5,62.0 670.5,62.4 671.5,62.9 672.5,63.4 673.5,63.9 674.5,64.4 675.5,64.8 676.5,65.2 677.5,65.6 678.5,65.9 679.5,66.2 680.5,66.3 681.5,66.4 682.5,66.3 683.5,66.1 684.5,65.8 685.5,65.2 686.5,64.6 687.5,63.7 688.5,62.8 689.5,61.7 690.5,60.5 691.5,59.2 692.5,57.9 693.5,56.5 694.5,55.1 695.5,53.8 696.5,52.4 697.5,51.0 698.5,49.7 699.6,48.4 700.6,47.1 701.6,45.9 702.6,44.7 703.6,43.4 704.6,42.2 705.6,41.0 706.6,39.9 707.6,38.7" stroke="#ff8a1a" stroke-width="2.00"/>
<path d="M402.6,43.4 403.6,43.1 404.6,42.7 405.6,42.5 406.6,42.2 407.6,41.9 408.6,41.6 409.6,41.4 410.6,41.1 411.6,40.9 412.6,40.8 413.6,40.6 414.6,40.5 415.6,40.4 416.6,40.3 417.6,40.3 418.6,40.3 419.6,40.3 420.7,40.4 421.7,40.5 422.7,40.7 423.7,40.9 424.7,41.1 425.7,41.3 426.7,41.6 427.7,41.9 428.7,42.2 429.7,42.6 430.7,42.9 431.7,43.3 432.7,43.7 433.7,44.1 434.7,44.5 435.7,45.0 436.7,45.4 437.7,45.9 438.7,46.3 439.7,46.8 440.7,47.2 441.7,47.7 442.7,48.2 443.7,48.6 444.7,49.1 445.7,49.5 446.7,49.9 447.7,50.4 448.7,50.8 449.7,51.2 450.7,51.6 451.8,52.0 452.8,52.4 453.8,52.8 454.8,53.2 455.8,53.6 456.8,54.0 457.8,54.4 458.8,54.8 459.8,55.2 460.8,55.6 461.8,56.0 462.8,56.5 463.8,56.9 464.8,57.3 465.8,57.8 466.8,58.3 467.8,58.7 468.8,59.2 469.8,59.7 470.8,60.2 471.8,60.8 472.8,61.3 473.8,61.9 474.8,62.4 475.8,63.0 476.8,63.6 477.8,64.2 478.8,64.9 479.8,65.5 480.8,66.2 481.8,66.9 482.9,67.6 483.9,68.4 484.9,69.1 485.9,69.9 486.9,70.6 487.9,71.3 488.9,72.1 489.9,72.8 490.9,73.5 491.9,74.2 492.9,74.9 493.9,75.5 494.9,76.1 495.9,76.7 496.9,77.3 497.9,77.8 498.9,78.3 499.9,78.7 500.9,79.2 501.9,79.6 502.9,80.0 503.9,80.4 504.9,80.8 505.9,81.2 506.9,81.5 507.9,81.8 508.9,82.2 509.9,82.5 510.9,82.8 511.9,83.1 512.9,83.3 514.0,83.5 515.0,83.7 516.0,83.8 517.0,83.9 518.0,83.9 519.0,83.9 520.0,83.8 521.0,83.8 522.0,83.6 523.0,83.5 524.0,83.3 525.0,83.2 526.0,83.0 527.0,82.8 528.0,82.6 529.0,82.3 530.0,82.1 531.0,81.9 532.0,81.7 533.0,81.5 534.0,81.3 535.0,81.1 536.0,80.8 537.0,80.6 538.0,80.4 539.0,80.1 540.0,79.9 541.0,79.6 542.0,79.3 543.0,79.0 544.0,78.7 545.1,78.4 546.1,78.1 547.1,77.7 548.1,77.3 549.1,77.0 550.1,76.6 551.1,76.2 552.1,75.9 553.1,75.5 554.1,75.2 555.1,74.9 556.1,74.6 557.1,74.3 558.1,74.0 559.1,73.8 560.1,73.6 561.1,73.5 562.1,73.4 563.1,73.4 564.1,73.5 565.1,73.6 566.1,73.9 567.1,74.2 568.1,74.6 569.1,75.1 570.1,75.7 571.1,76.2 572.1,76.8 573.1,77.4 574.1,78.0 575.1,78.5 576.2,79.0 577.2,79.5 578.2,79.8 579.2,80.1 580.2,80.2 581.2,80.3 582.2,80.3 583.2,80.2 584.2,80.0 585.2,79.8 586.2,79.5 587.2,79.1 588.2,78.7 589.2,78.3 590.2,77.9 591.2,77.4 592.2,76.9 593.2,76.4 594.2,75.9 595.2,75.4 596.2,74.9 597.2,74.4 598.2,74.0 599.2,73.6 600.2,73.2 601.2,72.9 602.2,72.5 603.2,72.2 604.2,71.9 605.2,71.7 606.2,71.4 607.3,71.2 608.3,71.0 609.3,70.8 610.3,70.6 611.3,70.4 612.3,70.3 613.3,70.1 614.3,70.0 615.3,69.9 616.3,69.8 617.3,69.7 618.3,69.6 619.3,69.5 620.3,69.5 621.3,69.4 622.3,69.3 623.3,69.2 624.3,69.2 625.3,69.1 626.3,69.0 627.3,68.9 628.3,68.8 629.3,68.7 630.3,68.6 631.3,68.4 632.3,68.3 633.3,68.1 634.3,68.0 635.3,67.8 636.3,67.6 637.3,67.3 638.4,67.1 639.4,66.9 640.4,66.7 641.4,66.4 642.4,66.2 643.4,66.0 644.4,65.8 645.4,65.7 646.4,65.5 647.4,65.4 648.4,65.3 649.4,65.2 650.4,65.2 651.4,65.2 652.4,65.3 653.4,65.4 654.4,65.5 655.4,65.7 656.4,65.9 657.4,66.1 658.4,66.3 659.4,66.5 660.4,66.7 661.4,66.9 662.4,67.0 663.4,67.1 664.4,67.2 665.4,67.2 666.4,67.2 667.4,67.2 668.4,67.1 669.5,67.0 670.5,66.8 671.5,66.6 672.5,66.4 673.5,66.1 674.5,65.8 675.5,65.4 676.5,65.0 677.5,64.6 678.5,64.2 679.5,63.7 680.5,63.2 681.5,62.6 682.5,62.1 683.5,61.4 684.5,60.8 685.5,60.1 686.5,59.4 687.5,58.7 688.5,57.9 689.5,57.1 690.5,56.3 691.5,55.4 692.5,54.5 693.5,53.5 694.5,52.6 695.5,51.6 696.5,50.5 697.5,49.5 698.5,48.4 699.6,47.3 700.6,46.1 701.6,45.0 702.6,43.8 703.6,42.6 704.6,41.4 705.6,40.2 706.6,39.0 707.6,37.7" stroke="#1a9090" stroke-width="2.00"/>
<path d="M402.6,43.7 403.6,43.4 404.6,43.1 405.6,42.7 406.6,42.4 407.6,42.1 408.6,41.8 409.6,41.5 410.6,41.3 411.6,41.0 412.6,40.8 413.6,40.7 414.6,40.5 415.6,40.4 416.6,40.3 417.6,40.3 418.6,40.3 419.6,40.3 420.7,40.4 421.7,40.5 422.7,40.7 423.7,40.9 424.7,41.1 425.7,41.3 426.7,41.6 427.7,41.9 428.7,42.2 429.7,42.6 430.7,42.9 431.7,43.3 432.7,43.7 433.7,44.1 434.7,44.5 435.7,44.9 436.7,45.4 437.7,45.8 438.7,46.3 439.7,46.7 440.7,47.2 441.7,47.7 442.7,48.1 443.7,48.6 444.7,49.0 445.7,49.5 446.7,50.0 447.7,50.4 448.7,50.8 449.7,51.3 450.7,51.7 451.8,52.1 452.8,52.6 453.8,53.0 454.8,53.4 455.8,53.8 456.8,54.2 457.8,54.6 458.8,55.0 459.8,55.3 460.8,55.7 461.8,56.1 462.8,56.5 463.8,56.8 464.8,57.2 465.8,57.5 466.8,57.9 467.8,58.3 468.8,58.6 469.8,59.0 470.8,59.4 471.8,59.8 472.8,60.1 473.8,60.6 474.8,61.0 475.8,61.4 476.8,61.9 477.8,62.3 478.8,62.8 479.8,63.3 480.8,63.9 481.8,64.4 482.9,65.0 483.9,65.6 484.9,66.2 485.9,66.8 486.9,67.4 487.9,68.0 488.9,68.6 489.9,69.2 490.9,69.8 491.9,70.4 492.9,70.9 493.9,71.4 494.9,71.9 495.9,72.3 496.9,72.7 497.9,73.1 498.9,73.4 499.9,73.7 500.9,74.0 501.9,74.3 502.9,74.6 503.9,74.8 504.9,75.1 505.9,75.3 506.9,75.5 507.9,75.8 508.9,76.0 509.9,76.3 510.9,76.5 511.9,76.7 512.9,77.0 514.0,77.2 515.0,77.5 516.0,77.7 517.0,77.9 518.0,78.1 519.0,78.2 520.0,78.4 521.0,78.5 522.0,78.6 523.0,78.7 524.0,78.7 525.0,78.7 526.0,78.7 527.0,78.6 528.0,78.6 529.0,78.5 530.0,78.4 531.0,78.2 532.0,78.1 533.0,78.0 534.0,77.8 535.0,77.7 536.0,77.6 537.0,77.4 538.0,77.3 539.0,77.2 540.0,77.1 541.0,77.0 542.0,77.0 543.0,76.9 544.0,76.9 545.1,76.8 546.1,76.7 547.1,76.7 548.1,76.6 549.1,76.5 550.1,76.3 551.1,76.2 552.1,76.0 553.1,75.8 554.1,75.6 555.1,75.3 556.1,75.1 557.1,74.9 558.1,74.6 559.1,74.4 560.1,74.2 561.1,74.1 562.1,73.9 563.1,73.8 564.1,73.7 565.1,73.7 566.1,73.7 567.1,73.7 568.1,73.8 569.1,73.9 570.1,74.1 571.1,74.3 572.1,74.4 573.1,74.6 574.1,74.8 575.1,75.0 576.2,75.1 577.2,75.2 578.2,75.4 579.2,75.4 580.2,75.5 581.2,75.5 582.2,75.5 583.2,75.4 584.2,75.4 585.2,75.3 586.2,75.2 587.2,75.1 588.2,74.9 589.2,74.8 590.2,74.6 591.2,74.5 592.2,74.3 593.2,74.1 594.2,74.0 595.2,73.8 596.2,73.7 597.2,73.6 598.2,73.4 599.2,73.3 600.2,73.2 601.2,73.1 602.2,73.1 603.2,73.0 604.2,72.9 605.2,72.8 606.2,72.8 607.3,72.7 608.3,72.6 609.3,72.5 610.3,72.4 611.3,72.3 612.3,72.2 613.3,72.1 614.3,71.9 615.3,71.8 616.3,71.6 617.3,71.4 618.3,71.2 619.3,70.9 620.3,70.7 621.3,70.5 622.3,70.2 623.3,69.9 624.3,69.7 625.3,69.4 626.3,69.1 627.3,68.8 628.3,68.6 629.3,68.3 630.3,68.0 631.3,67.8 632.3,67.5 633.3,67.3 634.3,67.0 635.3,66.8 636.3,66.6 637.3,66.4 638.4,66.2 639.4,66.0 640.4,65.8 641.4,65.7 642.4,65.5 643.4,65.4 644.4,65.2 645.4,65.1 646.4,65.0 647.4,64.9 648.4,64.8 649.4,64.6 650.4,64.5 651.4,64.4 652.4,64.3 653.4,64.2 654.4,64.2 655.4,64.1 656.4,64.0 657.4,63.9 658.4,63.8 659.4,63.8 660.4,63.7 661.4,63.6 662.4,63.6 663.4,63.5 664.4,63.5 665.4,63.5 666.4,63.4 667.4,63.4 668.4,63.4 669.5,63.4 670.5,63.4 671.5,63.4 672.5,63.5 673.5,63.5 674.5,63.5 675.5,63.5 676.5,63.5 677.5,63.4 678.5,63.3 679.5,63.1 680.5,62.9 681.5,62.6 682.5,62.3 683.5,61.8 684.5,61.3 685.5,60.6 686.5,59.9 687.5,59.1 688.5,58.1 689.5,57.1 690.5,56.1 691.5,54.9 692.5,53.8 693.5,52.5 694.5,51.3 695.5,50.0 696.5,48.7 697.5,47.4 698.5,46.1 699.6,44.8 700.6,43.4 701.6,42.1 702.6,40.8 703.6,39.4 704.6,38.1 705.6,36.7 706.6,35.4 707.6,34.1" stroke="#7f7f1f" stroke-width="2.00"/>
</g>
<text x="554.35" y="290.50" font-size="16.40" fill="#1a1a1a" text-anchor="middle">Wavelength (nm)</text>
<text transform="translate(369.50,121.10) rotate(-90)" font-size="16.40" fill="#1a1a1a" text-anchor="middle">&#916;R (%)</text>
<line x1="511.50" y1="224.50" x2="511.50" y2="84.00" stroke="#000" stroke-width="2.00" />
<polygon points="508.1,85 514.9,85 511.5,73.8" fill="#000"/>
<text x="515.80" y="165.00" font-size="16.00" fill="#1a1a1a" text-anchor="start" >t</text>
<rect x="571.40" y="117.70" width="122.80" height="104.40" fill="#fff" stroke="#888" stroke-width="1"/>
<line x1="572.80" y1="127.50" x2="605.30" y2="127.50" stroke="#ff1010" stroke-width="2.00" />
<text x="690.80" y="132.54" font-size="14.00" fill="#1a1a1a" text-anchor="end">0.4 V, t=16 s</text>
<line x1="572.80" y1="144.70" x2="605.30" y2="144.70" stroke="#d048ff" stroke-width="2.00" />
<text x="690.80" y="149.74" font-size="14.00" fill="#1a1a1a" text-anchor="end">0.2 V, t=20 s</text>
<line x1="572.80" y1="161.60" x2="605.30" y2="161.60" stroke="#4a1470" stroke-width="2.00" />
<text x="690.80" y="166.64" font-size="14.00" fill="#1a1a1a" text-anchor="end">0 V, t=24 s</text>
<line x1="572.80" y1="178.60" x2="605.30" y2="178.60" stroke="#ff8a1a" stroke-width="2.00" />
<text x="690.80" y="183.64" font-size="14.00" fill="#1a1a1a" text-anchor="end">-0.2 V, t=28 s</text>
<line x1="572.80" y1="195.60" x2="605.30" y2="195.60" stroke="#1a9090" stroke-width="2.00" />
<text x="690.80" y="200.64" font-size="14.00" fill="#1a1a1a" text-anchor="end">0 V, t=60 s</text>
<line x1="572.80" y1="212.90" x2="605.30" y2="212.90" stroke="#7f7f1f" stroke-width="2.00" />
<text x="690.80" y="217.94" font-size="14.00" fill="#1a1a1a" text-anchor="end">0 V, t=90 s</text>
<text x="373.20" y="14.63" font-size="18.92" fill="#111" textLength="22.80" lengthAdjust="spacingAndGlyphs">(b)</text>
<line x1="146.20" y1="619.3" x2="305.6" y2="619.3" stroke="#222" stroke-width="1.1" stroke-dasharray="3.5,2.6"/>
<line x1="146.20" y1="405.10" x2="584.10" y2="405.10" stroke="#1414ff" stroke-width="1.70" />
<line x1="584.10" y1="405.10" x2="584.10" y2="733.60" stroke="#1414ff" stroke-width="2.00" />
<line x1="146.20" y1="733.60" x2="584.10" y2="733.60" stroke="#1414ff" stroke-width="2.00" />
<line x1="146.20" y1="405.10" x2="146.20" y2="729.60" stroke="#111" stroke-width="1.60" />
<line x1="146.20" y1="727.60" x2="146.20" y2="733.60" stroke="#1414ff" stroke-width="1.60" />
<line x1="146.20" y1="717.32" x2="154.20" y2="717.32" stroke="#111" stroke-width="1.40" />
<text x="138.0" y="723.32" font-size="17" fill="#1a1a1a" text-anchor="end">-0.2</text>
<line x1="146.20" y1="684.46" x2="154.20" y2="684.46" stroke="#111" stroke-width="1.40" />
<text x="138.0" y="690.46" font-size="17" fill="#1a1a1a" text-anchor="end">-0.1</text>
<line x1="146.20" y1="651.60" x2="154.20" y2="651.60" stroke="#111" stroke-width="1.40" />
<text x="138.0" y="657.60" font-size="17" fill="#1a1a1a" text-anchor="end">0.0</text>
<line x1="146.20" y1="618.74" x2="154.20" y2="618.74" stroke="#111" stroke-width="1.40" />
<text x="138.0" y="624.74" font-size="17" fill="#1a1a1a" text-anchor="end">0.1</text>
<line x1="146.20" y1="585.88" x2="154.20" y2="585.88" stroke="#111" stroke-width="1.40" />
<text x="138.0" y="591.88" font-size="17" fill="#1a1a1a" text-anchor="end">0.2</text>
<line x1="146.20" y1="553.02" x2="154.20" y2="553.02" stroke="#111" stroke-width="1.40" />
<text x="138.0" y="559.02" font-size="17" fill="#1a1a1a" text-anchor="end">0.3</text>
<line x1="146.20" y1="520.16" x2="154.20" y2="520.16" stroke="#111" stroke-width="1.40" />
<text x="138.0" y="526.16" font-size="17" fill="#1a1a1a" text-anchor="end">0.4</text>
<line x1="146.20" y1="487.30" x2="154.20" y2="487.30" stroke="#111" stroke-width="1.40" />
<text x="138.0" y="493.30" font-size="17" fill="#1a1a1a" text-anchor="end">0.5</text>
<line x1="146.20" y1="454.44" x2="154.20" y2="454.44" stroke="#111" stroke-width="1.40" />
<text x="138.0" y="460.44" font-size="17" fill="#1a1a1a" text-anchor="end">0.6</text>
<line x1="146.20" y1="421.58" x2="154.20" y2="421.58" stroke="#111" stroke-width="1.40" />
<text x="138.0" y="427.58" font-size="17" fill="#1a1a1a" text-anchor="end">0.7</text>
<line x1="146.20" y1="700.89" x2="150.70" y2="700.89" stroke="#111" stroke-width="1.40" />
<line x1="146.20" y1="668.03" x2="150.70" y2="668.03" stroke="#111" stroke-width="1.40" />
<line x1="146.20" y1="635.17" x2="150.70" y2="635.17" stroke="#111" stroke-width="1.40" />
<line x1="146.20" y1="602.31" x2="150.70" y2="602.31" stroke="#111" stroke-width="1.40" />
<line x1="146.20" y1="569.45" x2="150.70" y2="569.45" stroke="#111" stroke-width="1.40" />
<line x1="146.20" y1="536.59" x2="150.70" y2="536.59" stroke="#111" stroke-width="1.40" />
<line x1="146.20" y1="503.73" x2="150.70" y2="503.73" stroke="#111" stroke-width="1.40" />
<line x1="146.20" y1="470.87" x2="150.70" y2="470.87" stroke="#111" stroke-width="1.40" />
<line x1="146.20" y1="438.01" x2="150.70" y2="438.01" stroke="#111" stroke-width="1.40" />
<line x1="584.10" y1="701.60" x2="576.10" y2="701.60" stroke="#1414ff" stroke-width="1.60" />
<text x="590.8" y="707.20" font-size="18" fill="#1414ff">1</text>
<line x1="584.10" y1="635.60" x2="576.10" y2="635.60" stroke="#1414ff" stroke-width="1.60" />
<text x="590.8" y="641.20" font-size="18" fill="#1414ff">2</text>
<line x1="584.10" y1="569.60" x2="576.10" y2="569.60" stroke="#1414ff" stroke-width="1.60" />
<text x="590.8" y="575.20" font-size="18" fill="#1414ff">3</text>
<line x1="584.10" y1="503.60" x2="576.10" y2="503.60" stroke="#1414ff" stroke-width="1.60" />
<text x="590.8" y="509.20" font-size="18" fill="#1414ff">4</text>
<line x1="584.10" y1="437.60" x2="576.10" y2="437.60" stroke="#1414ff" stroke-width="1.60" />
<text x="590.8" y="443.20" font-size="18" fill="#1414ff">5</text>
<line x1="584.10" y1="668.60" x2="580.10" y2="668.60" stroke="#1414ff" stroke-width="1.60" />
<line x1="584.10" y1="602.60" x2="580.10" y2="602.60" stroke="#1414ff" stroke-width="1.60" />
<line x1="584.10" y1="536.60" x2="580.10" y2="536.60" stroke="#1414ff" stroke-width="1.60" />
<line x1="584.10" y1="470.60" x2="580.10" y2="470.60" stroke="#1414ff" stroke-width="1.60" />
<line x1="146.20" y1="733.60" x2="146.20" y2="726.60" stroke="#1414ff" stroke-width="1.60" />
<text x="146.20" y="754.50" font-size="16.5" fill="#1a1a1a" text-anchor="middle">0</text>
<line x1="217.92" y1="733.60" x2="217.92" y2="726.60" stroke="#1414ff" stroke-width="1.60" />
<text x="217.92" y="754.50" font-size="16.5" fill="#1a1a1a" text-anchor="middle">10</text>
<line x1="289.64" y1="733.60" x2="289.64" y2="726.60" stroke="#1414ff" stroke-width="1.60" />
<text x="289.64" y="754.50" font-size="16.5" fill="#1a1a1a" text-anchor="middle">20</text>
<line x1="361.36" y1="733.60" x2="361.36" y2="726.60" stroke="#1414ff" stroke-width="1.60" />
<text x="361.36" y="754.50" font-size="16.5" fill="#1a1a1a" text-anchor="middle">30</text>
<line x1="433.08" y1="733.60" x2="433.08" y2="726.60" stroke="#1414ff" stroke-width="1.60" />
<text x="433.08" y="754.50" font-size="16.5" fill="#1a1a1a" text-anchor="middle">40</text>
<line x1="504.80" y1="733.60" x2="504.80" y2="726.60" stroke="#1414ff" stroke-width="1.60" />
<text x="504.80" y="754.50" font-size="16.5" fill="#1a1a1a" text-anchor="middle">50</text>
<line x1="576.52" y1="733.60" x2="576.52" y2="726.60" stroke="#1414ff" stroke-width="1.60" />
<text x="576.52" y="754.50" font-size="16.5" fill="#1a1a1a" text-anchor="middle">60</text>
<line x1="182.06" y1="733.60" x2="182.06" y2="730.10" stroke="#1414ff" stroke-width="1.60" />
<line x1="253.78" y1="733.60" x2="253.78" y2="730.10" stroke="#1414ff" stroke-width="1.60" />
<line x1="325.50" y1="733.60" x2="325.50" y2="730.10" stroke="#1414ff" stroke-width="1.60" />
<line x1="397.22" y1="733.60" x2="397.22" y2="730.10" stroke="#1414ff" stroke-width="1.60" />
<line x1="468.94" y1="733.60" x2="468.94" y2="730.10" stroke="#1414ff" stroke-width="1.60" />
<line x1="540.66" y1="733.60" x2="540.66" y2="730.10" stroke="#1414ff" stroke-width="1.60" />
<text x="366.3" y="772.5" font-size="18.5" fill="#1a1a1a" text-anchor="middle">Time (sec)</text>
<text transform="translate(103.8,569.9) rotate(-90)" font-size="22.2" fill="#1a1a1a" text-anchor="middle">Applied Voltage (V)</text>
<text transform="translate(625.3,567) rotate(-90)" font-size="18" fill="#1414ff" text-anchor="middle">|&#916;R| (%)</text>
<clipPath id="cclip"><rect x="146.50" y="405.10" width="437.90" height="328.50"/></clipPath>
<g clip-path="url(#cclip)">
<path d="M146.20,717.32 L174.89,651.60 L189.23,618.74 L203.58,585.88 L217.92,553.02 L246.61,487.30 L260.95,520.16 L289.64,585.88 L318.33,651.60 L347.02,717.32 L347.02,651.60 L433.08,651.60 L576.52,651.60" fill="none" stroke="#111" stroke-width="1.6"/>
<path d="M146.20,704.24 L174.89,704.90 L189.23,708.20 L203.58,679.16 L217.92,569.60 L246.61,479.84 L260.95,446.84 L289.64,516.80 L318.33,587.42 L347.02,624.38 L433.08,692.36 L576.52,701.60" fill="none" stroke="#1414ff" stroke-width="1.8"/>
<rect x="143.10" y="714.22" width="6.2" height="6.2" fill="#000"/>
<rect x="171.79" y="648.50" width="6.2" height="6.2" fill="#000"/>
<rect x="186.13" y="615.64" width="6.2" height="6.2" fill="#000"/>
<rect x="200.48" y="582.78" width="6.2" height="6.2" fill="#000"/>
<rect x="214.82" y="549.92" width="6.2" height="6.2" fill="#000"/>
<rect x="243.51" y="484.20" width="6.2" height="6.2" fill="#000"/>
<rect x="257.85" y="517.06" width="6.2" height="6.2" fill="#000"/>
<rect x="286.54" y="582.78" width="6.2" height="6.2" fill="#000"/>
<rect x="315.23" y="648.50" width="6.2" height="6.2" fill="#000"/>
<rect x="343.92" y="714.22" width="6.2" height="6.2" fill="#000"/>
<rect x="343.92" y="648.50" width="6.2" height="6.2" fill="#000"/>
<rect x="429.98" y="648.50" width="6.2" height="6.2" fill="#000"/>
<rect x="573.42" y="648.50" width="6.2" height="6.2" fill="#000"/>
<polygon points="141.10,704.24 146.20,699.54 151.30,704.24 146.20,708.94" fill="#1414ff"/>
<polygon points="169.79,704.90 174.89,700.20 179.99,704.90 174.89,709.60" fill="#1414ff"/>
<polygon points="184.13,708.20 189.23,703.50 194.33,708.20 189.23,712.90" fill="#1414ff"/>
<polygon points="198.48,679.16 203.58,674.46 208.68,679.16 203.58,683.86" fill="#1414ff"/>
<polygon points="212.82,569.60 217.92,564.90 223.02,569.60 217.92,574.30" fill="#1414ff"/>
<polygon points="241.51,479.84 246.61,475.14 251.71,479.84 246.61,484.54" fill="#1414ff"/>
<polygon points="255.85,446.84 260.95,442.14 266.05,446.84 260.95,451.54" fill="#1414ff"/>
<polygon points="284.54,516.80 289.64,512.10 294.74,516.80 289.64,521.50" fill="#1414ff"/>
<polygon points="313.23,587.42 318.33,582.72 323.43,587.42 318.33,592.12" fill="#1414ff"/>
<polygon points="341.92,624.38 347.02,619.68 352.12,624.38 347.02,629.08" fill="#1414ff"/>
<polygon points="427.98,692.36 433.08,687.66 438.18,692.36 433.08,697.06" fill="#1414ff"/>
<polygon points="571.42,701.60 576.52,696.90 581.62,701.60 576.52,706.30" fill="#1414ff"/>
</g>
<line x1="190.0" y1="320.8" x2="190.0" y2="401" stroke="#f01a1a" stroke-width="2.8" stroke-dasharray="20.7,8.7"/>
<line x1="190.0" y1="405.0" x2="190.0" y2="734" stroke="#f01a1a" stroke-width="2.8" stroke-dasharray="11.6,11.05"/>
<line x1="306.2" y1="316.6" x2="306.2" y2="401" stroke="#f01a1a" stroke-width="2.8" stroke-dasharray="21,8.5"/>
<line x1="306.2" y1="404.5" x2="306.2" y2="734" stroke="#f01a1a" stroke-width="2.8" stroke-dasharray="11.8,10.85"/>
<circle cx="203.3" cy="601.4" r="13.1" fill="none" stroke="#111" stroke-width="1.7"/>
<line x1="187.40" y1="585.00" x2="156.00" y2="585.00" stroke="#111" stroke-width="1.40" />
<polygon points="147.6,585.0 157.5,581.8 157.5,588.2" fill="#111"/>
<circle cx="321.2" cy="586.6" r="13.3" fill="none" stroke="#1414ff" stroke-width="1.7"/>
<line x1="338.30" y1="571.50" x2="552.00" y2="571.50" stroke="#1414ff" stroke-width="1.40" />
<polygon points="560.5,571.5 550,568.3 550,574.7" fill="#1414ff"/>
<text x="175" y="459.5" font-size="18" fill="#1a1a1a" text-anchor="middle">A</text>
<text x="223" y="459.5" font-size="18" fill="#1a1a1a" text-anchor="middle">B</text>
<text x="390" y="459.5" font-size="18" fill="#1a1a1a" text-anchor="middle">C</text>
<rect x="345.6" y="483.6" width="227.2" height="50" fill="#fff" stroke="#555" stroke-width="1"/>
<line x1="348.10" y1="496.00" x2="392.80" y2="496.00" stroke="#111" stroke-width="1.60" />
<rect x="367.4" y="492.7" width="6.6" height="6.6" fill="#000"/>
<text x="398.4" y="503.5" font-size="20.2" fill="#1a1a1a">Applied Voltage (V)</text>
<line x1="348.10" y1="521.50" x2="392.80" y2="521.50" stroke="#1414ff" stroke-width="2.00" />
<polygon points="365.2,521.5 370.4,516.7 375.6,521.5 370.4,526.3" fill="#1414ff"/>
<text x="397.3" y="529" font-size="20.2" fill="#1414ff">&#916;R</text>
<text x="10.60" y="328.46" font-size="21.64" fill="#111" textLength="22.00" lengthAdjust="spacingAndGlyphs">(c)</text>
<rect x="75.20" y="337.70" width="108.40" height="29.60" fill="#8eaadb"/>
<rect x="75.20" y="367.30" width="108.40" height="8.90" fill="#fbdf8e"/>
<rect x="83.70" y="360.40" width="16.40" height="7.20" fill="#fbdf8e"/>
<rect x="109.40" y="360.40" width="15.90" height="7.20" fill="#fbdf8e"/>
<rect x="134.20" y="360.40" width="15.80" height="7.20" fill="#fbdf8e"/>
<rect x="158.90" y="360.40" width="15.80" height="7.20" fill="#fbdf8e"/>
<rect x="196.80" y="337.70" width="103.80" height="29.60" fill="#8eaadb"/>
<rect x="196.80" y="367.30" width="103.80" height="8.40" fill="#fbdf8e"/>
<rect x="205.70" y="360.40" width="14.80" height="7.20" fill="#fbdf8e"/>
<rect x="229.40" y="360.40" width="15.90" height="7.20" fill="#fbdf8e"/>
<rect x="253.60" y="360.40" width="15.40" height="7.20" fill="#fbdf8e"/>
<rect x="277.90" y="360.40" width="14.80" height="7.20" fill="#fbdf8e"/>
<rect x="317.20" y="338.30" width="103.80" height="29.00" fill="#8eaadb"/>
<rect x="317.20" y="367.30" width="103.80" height="8.90" fill="#fbdf8e"/>
<rect x="326.10" y="360.40" width="15.00" height="7.20" fill="#fbdf8e"/>
<rect x="350.00" y="360.40" width="15.30" height="7.20" fill="#fbdf8e"/>
<rect x="374.20" y="360.40" width="15.20" height="7.20" fill="#fbdf8e"/>
<rect x="397.90" y="360.40" width="15.20" height="7.20" fill="#fbdf8e"/>
<line x1="134.70" y1="376.40" x2="134.70" y2="384.80" stroke="#888" stroke-width="1.00" />
<line x1="127.50" y1="384.80" x2="141.90" y2="384.80" stroke="#999" stroke-width="1.30" />
<line x1="130.10" y1="387.40" x2="139.30" y2="387.40" stroke="#777" stroke-width="1.10" />
<line x1="134.70" y1="387.40" x2="134.70" y2="399.20" stroke="#777" stroke-width="1.00" />
<polygon points="131.70,399.2 137.70,399.2 134.70,402.8" fill="#fff" stroke="#777" stroke-width="0.9"/>
<line x1="253.60" y1="376.00" x2="253.60" y2="384.80" stroke="#888" stroke-width="1.00" />
<line x1="246.40" y1="384.80" x2="260.80" y2="384.80" stroke="#999" stroke-width="1.30" />
<line x1="249.00" y1="387.40" x2="258.20" y2="387.40" stroke="#777" stroke-width="1.10" />
<line x1="253.60" y1="387.40" x2="253.60" y2="399.20" stroke="#777" stroke-width="1.00" />
<polygon points="250.60,399.2 256.60,399.2 253.60,402.8" fill="#fff" stroke="#777" stroke-width="0.9"/>
<line x1="374.20" y1="376.40" x2="374.20" y2="384.80" stroke="#888" stroke-width="1.00" />
<line x1="367.00" y1="384.80" x2="381.40" y2="384.80" stroke="#999" stroke-width="1.30" />
<line x1="369.60" y1="387.40" x2="378.80" y2="387.40" stroke="#777" stroke-width="1.10" />
<line x1="374.20" y1="387.40" x2="374.20" y2="399.20" stroke="#777" stroke-width="1.00" />
<polygon points="371.20,399.2 377.20,399.2 374.20,402.8" fill="#fff" stroke="#777" stroke-width="0.9"/>
<polyline points="144.3,391.5 144.3,373.6 150.5,373.6" fill="none" stroke="#ee1c24" stroke-width="1"/>
<polygon points="152.6,373.6 149.2,371.6 149.2,375.6" fill="#ee1c24"/>
<circle cx="157.90" cy="373.00" r="5.30" fill="none" stroke="#444" stroke-width="0.8"/>
<text x="157.30" y="376.00" font-size="8.8" fill="#222" stroke="#222" stroke-width="0.25" text-anchor="middle">e</text>
<text x="159.50" y="372.70" font-size="5" fill="#222">-</text>
<text x="80.20" y="391.60" font-size="10.80" fill="#ee1c24" textLength="39.30" lengthAdjust="spacingAndGlyphs" stroke="#ee1c24" stroke-width="0.25">charging</text>
<line x1="260.7" y1="351.2" x2="238.70" y2="360.40" stroke="#ee1c24" stroke-width="0.9"/>
<circle cx="238.70" cy="360.40" r="1.3" fill="#ee1c24"/>
<line x1="260.7" y1="351.2" x2="260.50" y2="360.60" stroke="#ee1c24" stroke-width="0.9"/>
<circle cx="260.50" cy="360.60" r="1.3" fill="#ee1c24"/>
<line x1="260.7" y1="351.2" x2="272.00" y2="364.40" stroke="#ee1c24" stroke-width="0.9"/>
<circle cx="272.00" cy="364.40" r="1.3" fill="#ee1c24"/>
<line x1="260.7" y1="351.2" x2="281.80" y2="360.40" stroke="#ee1c24" stroke-width="0.9"/>
<circle cx="281.80" cy="360.40" r="1.3" fill="#ee1c24"/>
<circle cx="234.80" cy="366.50" r="5.30" fill="none" stroke="#444" stroke-width="0.8"/>
<text x="234.20" y="369.50" font-size="8.8" fill="#222" stroke="#222" stroke-width="0.25" text-anchor="middle">e</text>
<text x="236.40" y="366.20" font-size="5" fill="#222">-</text>
<circle cx="258.10" cy="366.50" r="5.30" fill="none" stroke="#444" stroke-width="0.8"/>
<text x="257.50" y="369.50" font-size="8.8" fill="#222" stroke="#222" stroke-width="0.25" text-anchor="middle">e</text>
<text x="259.70" y="366.20" font-size="5" fill="#222">-</text>
<circle cx="272.90" cy="371.60" r="5.30" fill="none" stroke="#444" stroke-width="0.8"/>
<text x="272.30" y="374.60" font-size="8.8" fill="#222" stroke="#222" stroke-width="0.25" text-anchor="middle">e</text>
<text x="274.50" y="371.30" font-size="5" fill="#222">-</text>
<circle cx="283.20" cy="366.10" r="5.30" fill="none" stroke="#444" stroke-width="0.8"/>
<text x="282.60" y="369.10" font-size="8.8" fill="#222" stroke="#222" stroke-width="0.25" text-anchor="middle">e</text>
<text x="284.80" y="365.80" font-size="5" fill="#222">-</text>
<polyline points="237.4,371.4 237.4,374.5 249.8,374.5 249.8,391" fill="none" stroke="#ee1c24" stroke-width="1"/>
<circle cx="249.80" cy="391.30" r="1.3" fill="#ee1c24"/>
<text x="197.30" y="358.20" font-size="10.80" fill="#ee1c24" textLength="42.80" lengthAdjust="spacingAndGlyphs" stroke="#ee1c24" stroke-width="0.25">oxidation</text>
<text x="192.30" y="391.60" font-size="10.80" fill="#ee1c24" textLength="52.90" lengthAdjust="spacingAndGlyphs" stroke="#ee1c24" stroke-width="0.25">discharging</text>
<text x="210.80" y="348.60" font-size="12.00" fill="#222" textLength="6.70" lengthAdjust="spacingAndGlyphs" font-family="Liberation Serif, serif" font-style="italic" stroke="#222" stroke-width="0.3">A</text>
<line x1="221.60" y1="345.40" x2="230.00" y2="345.40" stroke="#222" stroke-width="0.90" />
<polygon points="232.6,345.4 229.0,343.4 229.0,347.4" fill="#222"/>
<text x="234.40" y="348.60" font-size="12.00" fill="#222" textLength="7.10" lengthAdjust="spacingAndGlyphs" font-family="Liberation Serif, serif" font-style="italic" stroke="#222" stroke-width="0.3">A</text>
<text x="241.30" y="344.20" font-size="9.00" fill="#222" textLength="4.30" lengthAdjust="spacingAndGlyphs" font-family="Liberation Serif, serif" stroke="#222" stroke-width="0.3">+</text>
<text x="249.30" y="348.80" font-size="12.50" fill="#222" textLength="7.40" lengthAdjust="spacingAndGlyphs" font-family="Liberation Serif, serif" stroke="#222" stroke-width="0.3">+</text>
<text x="261.50" y="348.60" font-size="12.00" fill="#222" textLength="5.80" lengthAdjust="spacingAndGlyphs" font-family="Liberation Serif, serif" font-style="italic" stroke="#222" stroke-width="0.3">e</text>
<text x="268.40" y="344.20" font-size="9.00" fill="#222" textLength="5.90" lengthAdjust="spacingAndGlyphs" font-family="Liberation Serif, serif" stroke="#222" stroke-width="0.3">&#8722;</text>
<circle cx="379.90" cy="367.00" r="5.30" fill="none" stroke="#444" stroke-width="0.8"/>
<text x="379.30" y="370.00" font-size="8.8" fill="#222" stroke="#222" stroke-width="0.25" text-anchor="middle">e</text>
<text x="381.50" y="366.70" font-size="5" fill="#222">-</text>
<circle cx="404.20" cy="367.00" r="5.30" fill="none" stroke="#444" stroke-width="0.8"/>
<text x="403.60" y="370.00" font-size="8.8" fill="#222" stroke="#222" stroke-width="0.25" text-anchor="middle">e</text>
<text x="405.80" y="366.70" font-size="5" fill="#222">-</text>
<polyline points="379.5,372.4 379.5,392" fill="none" stroke="#ee1c24" stroke-width="1"/>
<polyline points="403.8,372.4 403.8,383.2 383,383.2 383,392" fill="none" stroke="#ee1c24" stroke-width="1"/>
<circle cx="379.50" cy="392.40" r="1.3" fill="#ee1c24"/>
<circle cx="383.00" cy="392.40" r="1.3" fill="#ee1c24"/>
<text x="390.00" y="396.50" font-size="10.80" fill="#ee1c24" textLength="54.00" lengthAdjust="spacingAndGlyphs" stroke="#ee1c24" stroke-width="0.25">discharging</text>
<text x="105.60" y="331.30" font-size="14.00" fill="#222" textLength="9.60" lengthAdjust="spacingAndGlyphs" font-family="Liberation Serif, serif" font-style="italic" stroke="#222" stroke-width="0.15">V</text>
<text x="112.00" y="333.60" font-size="11.00" fill="#222" textLength="37.00" lengthAdjust="spacingAndGlyphs" font-family="Liberation Serif, serif" font-style="italic" stroke="#222" stroke-width="0.15">applied</text>
<text x="155.00" y="332.00" font-size="16.00" fill="#222" textLength="9.50" lengthAdjust="spacingAndGlyphs" font-family="Liberation Serif, serif" stroke="#222" stroke-width="0.05">&lt;</text>
<text x="168.20" y="331.30" font-size="13.50" fill="#222" textLength="7.80" lengthAdjust="spacingAndGlyphs" font-family="Liberation Serif, serif" stroke="#222" stroke-width="0.05">0</text>
<text x="205.90" y="331.30" font-size="14.00" fill="#222" textLength="9.60" lengthAdjust="spacingAndGlyphs" font-family="Liberation Serif, serif" font-style="italic" stroke="#222" stroke-width="0.15">V</text>
<text x="211.60" y="333.60" font-size="11.00" fill="#222" textLength="37.40" lengthAdjust="spacingAndGlyphs" font-family="Liberation Serif, serif" font-style="italic" stroke="#222" stroke-width="0.15">applied</text>
<text x="254.80" y="332.00" font-size="16.00" fill="#222" textLength="8.80" lengthAdjust="spacingAndGlyphs" font-family="Liberation Serif, serif" stroke="#222" stroke-width="0.05">&gt;</text>
<text x="268.00" y="331.30" font-size="14.00" fill="#222" textLength="9.60" lengthAdjust="spacingAndGlyphs" font-family="Liberation Serif, serif" font-style="italic" stroke="#222" stroke-width="0.15">V</text>
<text x="276.00" y="333.60" font-size="11.00" fill="#222" textLength="25.00" lengthAdjust="spacingAndGlyphs" font-family="Liberation Serif, serif" font-style="italic" stroke="#222" stroke-width="0.15">onset</text>
<text x="321.80" y="331.30" font-size="14.00" fill="#222" textLength="9.60" lengthAdjust="spacingAndGlyphs" font-family="Liberation Serif, serif" font-style="italic" stroke="#222" stroke-width="0.15">V</text>
<text x="328.50" y="333.60" font-size="11.00" fill="#222" textLength="37.80" lengthAdjust="spacingAndGlyphs" font-family="Liberation Serif, serif" font-style="italic" stroke="#222" stroke-width="0.15">applied</text>
<text x="371.70" y="332.00" font-size="16.00" fill="#222" textLength="8.60" lengthAdjust="spacingAndGlyphs" font-family="Liberation Serif, serif" stroke="#222" stroke-width="0.05">&lt;</text>
<text x="384.50" y="331.30" font-size="14.00" fill="#222" textLength="9.60" lengthAdjust="spacingAndGlyphs" font-family="Liberation Serif, serif" font-style="italic" stroke="#222" stroke-width="0.15">V</text>
<text x="392.00" y="333.60" font-size="11.00" fill="#222" textLength="25.50" lengthAdjust="spacingAndGlyphs" font-family="Liberation Serif, serif" font-style="italic" stroke="#222" stroke-width="0.15">onset</text>
<rect x="56.40" y="802.00" width="298.70" height="241.00" fill="none" stroke="#333" stroke-width="1.50"/>
<line x1="89.50" y1="1043.00" x2="89.50" y2="1038.00" stroke="#333" stroke-width="1.35" />
<text x="89.50" y="1061.20" font-size="15.80" fill="#1a1a1a" text-anchor="middle">400</text>
<line x1="157.40" y1="1043.00" x2="157.40" y2="1038.00" stroke="#333" stroke-width="1.35" />
<text x="157.40" y="1061.20" font-size="15.80" fill="#1a1a1a" text-anchor="middle">500</text>
<line x1="225.30" y1="1043.00" x2="225.30" y2="1038.00" stroke="#333" stroke-width="1.35" />
<text x="225.30" y="1061.20" font-size="15.80" fill="#1a1a1a" text-anchor="middle">600</text>
<line x1="293.20" y1="1043.00" x2="293.20" y2="1038.00" stroke="#333" stroke-width="1.35" />
<text x="293.20" y="1061.20" font-size="15.80" fill="#1a1a1a" text-anchor="middle">700</text>
<line x1="123.45" y1="1043.00" x2="123.45" y2="1040.00" stroke="#333" stroke-width="1.35" />
<line x1="191.35" y1="1043.00" x2="191.35" y2="1040.00" stroke="#333" stroke-width="1.35" />
<line x1="259.25" y1="1043.00" x2="259.25" y2="1040.00" stroke="#333" stroke-width="1.35" />
<line x1="327.15" y1="1043.00" x2="327.15" y2="1040.00" stroke="#333" stroke-width="1.35" />
<line x1="56.40" y1="817.73" x2="59.40" y2="817.73" stroke="#333" stroke-width="1.35" />
<line x1="56.40" y1="836.50" x2="61.40" y2="836.50" stroke="#333" stroke-width="1.35" />
<text x="50.50" y="841.10" font-size="16.20" fill="#1a1a1a" text-anchor="end">0</text>
<line x1="56.40" y1="855.28" x2="59.40" y2="855.28" stroke="#333" stroke-width="1.35" />
<line x1="56.40" y1="874.05" x2="61.40" y2="874.05" stroke="#333" stroke-width="1.35" />
<text x="50.50" y="878.65" font-size="16.20" fill="#1a1a1a" text-anchor="end">-1</text>
<line x1="56.40" y1="892.82" x2="59.40" y2="892.82" stroke="#333" stroke-width="1.35" />
<line x1="56.40" y1="911.59" x2="61.40" y2="911.59" stroke="#333" stroke-width="1.35" />
<text x="50.50" y="916.19" font-size="16.20" fill="#1a1a1a" text-anchor="end">-2</text>
<line x1="56.40" y1="930.37" x2="59.40" y2="930.37" stroke="#333" stroke-width="1.35" />
<line x1="56.40" y1="949.14" x2="61.40" y2="949.14" stroke="#333" stroke-width="1.35" />
<text x="50.50" y="953.74" font-size="16.20" fill="#1a1a1a" text-anchor="end">-3</text>
<line x1="56.40" y1="967.91" x2="59.40" y2="967.91" stroke="#333" stroke-width="1.35" />
<line x1="56.40" y1="986.68" x2="61.40" y2="986.68" stroke="#333" stroke-width="1.35" />
<text x="50.50" y="991.28" font-size="16.20" fill="#1a1a1a" text-anchor="end">-4</text>
<line x1="56.40" y1="1005.46" x2="59.40" y2="1005.46" stroke="#333" stroke-width="1.35" />
<line x1="56.40" y1="1024.23" x2="61.40" y2="1024.23" stroke="#333" stroke-width="1.35" />
<text x="50.50" y="1028.83" font-size="16.20" fill="#1a1a1a" text-anchor="end">-5</text>
<clipPath id="clip56_802"><rect x="55.40" y="799.00" width="300.70" height="244.00"/></clipPath>
<g clip-path="url(#clip56_802)" fill="none" stroke-linejoin="round" stroke-linecap="round">
<path d="M55.5,833.9 56.6,833.9 57.6,833.9 58.6,833.9 59.6,833.9 60.6,833.9 61.6,833.9 62.6,833.9 63.6,833.9 64.6,833.9 65.6,834.0 66.6,834.1 67.6,834.2 68.6,834.4 69.6,834.6 70.6,834.9 71.6,835.3 72.6,835.8 73.6,836.3 74.6,836.9 75.6,837.6 76.6,838.3 77.6,839.0 78.6,839.8 79.6,840.4 80.6,841.1 81.6,841.6 82.6,842.1 83.6,842.5 84.6,842.8 85.6,842.9 86.6,842.9 87.6,842.7 88.6,842.4 89.6,842.0 90.6,841.5 91.6,841.0 92.6,840.4 93.6,839.9 94.6,839.3 95.6,838.7 96.6,838.2 97.6,837.7 98.6,837.3 99.6,836.9 100.6,836.6 101.6,836.4 102.6,836.3 103.6,836.3 104.6,836.5 105.6,836.8 106.6,837.2 107.6,837.8 108.6,838.4 109.6,839.2 110.6,840.1 111.6,841.0 112.6,842.0 113.6,843.0 114.6,844.0 115.6,845.1 116.6,846.2 117.6,847.2 118.6,848.3 119.6,849.3 120.6,850.4 121.6,851.3 122.6,852.3 123.6,853.2 124.6,854.1 125.6,854.9 126.6,855.6 127.6,856.3 128.6,856.9 129.6,857.5 130.6,858.0 131.6,858.3 132.6,858.6 133.6,858.8 134.6,859.0 135.6,859.2 136.6,859.4 137.6,859.5 138.6,859.8 139.6,860.1 140.6,860.4 141.6,860.9 142.6,861.5 143.6,862.3 144.6,863.1 145.6,864.0 146.6,865.0 147.6,866.1 148.6,867.2 149.6,868.3 150.6,869.4 151.6,870.6 152.6,871.7 153.6,872.8 154.6,873.8 155.6,874.8 156.6,875.7 157.6,876.6 158.6,877.3 159.6,877.9 160.6,878.5 161.6,879.0 162.6,879.4 163.6,879.8 164.6,880.1 165.6,880.4 166.6,880.6 167.6,880.8 168.6,880.9 169.6,881.0 170.6,881.1 171.6,881.1 172.6,881.1 173.6,881.2 174.6,881.2 175.6,881.2 176.6,881.2 177.6,881.2 178.6,881.3 179.6,881.3 180.6,881.4 181.6,881.4 182.6,881.5 183.7,881.6 184.7,881.8 185.7,882.0 186.7,882.2 187.7,882.4 188.7,882.7 189.7,882.9 190.7,883.3 191.7,883.6 192.7,883.9 193.7,884.3 194.7,884.6 195.7,884.9 196.7,885.3 197.7,885.5 198.7,885.8 199.7,886.0 200.7,886.2 201.7,886.4 202.7,886.4 203.7,886.5 204.7,886.4 205.7,886.3 206.7,886.2 207.7,886.0 208.7,885.8 209.7,885.6 210.7,885.3 211.7,885.0 212.7,884.7 213.7,884.4 214.7,884.1 215.7,883.7 216.7,883.4 217.7,883.1 218.7,882.8 219.7,882.5 220.7,882.2 221.7,882.0 222.7,881.7 223.7,881.6 224.7,881.4 225.7,881.3 226.7,881.2 227.7,881.1 228.7,881.0 229.7,880.9 230.7,880.9 231.7,880.8 232.7,880.8 233.7,880.8 234.7,880.8 235.7,880.7 236.7,880.7 237.7,880.7 238.7,880.6 239.7,880.6 240.7,880.5 241.7,880.4 242.7,880.3 243.7,880.2 244.7,880.0 245.7,879.8 246.7,879.6 247.7,879.4 248.7,879.2 249.7,878.9 250.7,878.6 251.7,878.4 252.7,878.1 253.7,877.8 254.7,877.5 255.7,877.1 256.7,876.8 257.7,876.5 258.7,876.2 259.7,875.9 260.7,875.6 261.7,875.3 262.7,875.0 263.7,874.8 264.7,874.5 265.7,874.3 266.7,874.1 267.7,873.9 268.7,873.8 269.7,873.6 270.7,873.5 271.7,873.4 272.7,873.3 273.7,873.2 274.7,873.1 275.7,873.0 276.7,872.9 277.7,872.8 278.7,872.8 279.7,872.7 280.7,872.6 281.7,872.5 282.7,872.4 283.7,872.2 284.7,872.1 285.7,871.9 286.7,871.8 287.7,871.6 288.7,871.4 289.7,871.2 290.7,870.9 291.7,870.7 292.7,870.5 293.7,870.3 294.7,870.0 295.7,869.8 296.7,869.5 297.7,869.3 298.7,869.1 299.7,868.8 300.7,868.6 301.7,868.4 302.7,868.2 303.7,867.9 304.7,867.7 305.7,867.5 306.7,867.2 307.7,867.0 308.7,866.7 309.7,866.5 310.8,866.2 311.8,866.0 312.8,865.7 313.8,865.4 314.8,865.2 315.8,864.9 316.8,864.7 317.8,864.5 318.8,864.3 319.8,864.1 320.8,863.9 321.8,863.7 322.8,863.6 323.8,863.5 324.8,863.5 325.8,863.4 326.8,863.4 327.8,863.3 328.8,863.2 329.8,863.1 330.8,862.8 331.8,862.5 332.8,862.1 333.8,861.6 334.8,860.9 335.8,860.1 336.8,859.2 337.8,858.2 338.8,857.2 339.8,856.2 340.8,855.1 341.8,854.1 342.8,853.0 343.8,852.0 344.8,851.1 345.8,850.2 346.8,849.3 347.8,848.5 348.8,847.8 349.8,847.0 350.8,846.3 351.8,845.6 352.8,845.0 353.8,844.3 354.8,843.6" stroke="#ff8a1a" stroke-width="1.80"/>
<path d="M55.5,839.1 56.6,838.9 57.6,838.6 58.6,838.3 59.6,838.1 60.6,837.9 61.6,837.7 62.6,837.6 63.6,837.6 64.6,837.6 65.6,837.6 66.6,837.8 67.6,838.0 68.6,838.3 69.6,838.7 70.6,839.1 71.6,839.6 72.6,840.1 73.6,840.6 74.6,841.2 75.6,841.8 76.6,842.4 77.6,843.1 78.6,843.7 79.6,844.4 80.6,845.0 81.6,845.7 82.6,846.3 83.6,846.9 84.6,847.5 85.6,848.0 86.6,848.6 87.6,849.0 88.6,849.4 89.6,849.8 90.6,850.1 91.6,850.4 92.6,850.7 93.6,850.9 94.6,851.1 95.6,851.3 96.6,851.5 97.6,851.7 98.6,851.9 99.6,852.1 100.6,852.4 101.6,852.6 102.6,852.9 103.6,853.2 104.6,853.5 105.6,853.9 106.6,854.4 107.6,854.9 108.6,855.4 109.6,856.1 110.6,856.7 111.6,857.4 112.6,858.1 113.6,858.9 114.6,859.7 115.6,860.5 116.6,861.3 117.6,862.2 118.6,863.1 119.6,864.0 120.6,864.9 121.6,865.8 122.6,866.8 123.6,867.8 124.6,868.8 125.6,869.9 126.6,871.0 127.6,872.1 128.6,873.3 129.6,874.6 130.6,875.9 131.6,877.3 132.6,878.7 133.6,880.2 134.6,881.7 135.6,883.3 136.6,884.9 137.6,886.6 138.6,888.4 139.6,890.2 140.6,892.1 141.6,893.9 142.6,895.9 143.6,897.8 144.6,899.7 145.6,901.6 146.6,903.4 147.6,905.2 148.6,906.9 149.6,908.5 150.6,910.0 151.6,911.5 152.6,912.8 153.6,914.1 154.6,915.3 155.6,916.4 156.6,917.5 157.6,918.4 158.6,919.3 159.6,920.2 160.6,920.9 161.6,921.6 162.6,922.2 163.6,922.6 164.6,923.0 165.6,923.3 166.6,923.5 167.6,923.7 168.6,923.6 169.6,923.5 170.6,923.3 171.6,923.0 172.6,922.6 173.6,922.1 174.6,921.5 175.6,920.8 176.6,920.1 177.6,919.3 178.6,918.5 179.6,917.6 180.6,916.7 181.6,915.8 182.6,914.8 183.7,913.8 184.7,912.8 185.7,911.8 186.7,910.8 187.7,909.7 188.7,908.7 189.7,907.8 190.7,906.8 191.7,905.9 192.7,905.0 193.7,904.1 194.7,903.3 195.7,902.4 196.7,901.7 197.7,900.9 198.7,900.2 199.7,899.5 200.7,898.9 201.7,898.3 202.7,897.7 203.7,897.2 204.7,896.6 205.7,896.1 206.7,895.6 207.7,895.2 208.7,894.7 209.7,894.2 210.7,893.8 211.7,893.3 212.7,892.8 213.7,892.3 214.7,891.9 215.7,891.4 216.7,890.9 217.7,890.5 218.7,890.1 219.7,889.7 220.7,889.3 221.7,889.0 222.7,888.7 223.7,888.4 224.7,888.3 225.7,888.1 226.7,888.0 227.7,888.0 228.7,888.0 229.7,888.1 230.7,888.2 231.7,888.3 232.7,888.5 233.7,888.8 234.7,889.0 235.7,889.3 236.7,889.6 237.7,889.9 238.7,890.2 239.7,890.4 240.7,890.6 241.7,890.7 242.7,890.7 243.7,890.7 244.7,890.6 245.7,890.3 246.7,889.9 247.7,889.5 248.7,889.0 249.7,888.4 250.7,887.7 251.7,887.0 252.7,886.3 253.7,885.6 254.7,884.8 255.7,884.1 256.7,883.3 257.7,882.6 258.7,881.9 259.7,881.1 260.7,880.4 261.7,879.7 262.7,879.0 263.7,878.3 264.7,877.6 265.7,877.0 266.7,876.4 267.7,875.8 268.7,875.2 269.7,874.7 270.7,874.2 271.7,873.7 272.7,873.2 273.7,872.7 274.7,872.3 275.7,871.9 276.7,871.5 277.7,871.1 278.7,870.7 279.7,870.4 280.7,870.0 281.7,869.7 282.7,869.4 283.7,869.1 284.7,868.9 285.7,868.6 286.7,868.4 287.7,868.1 288.7,867.9 289.7,867.7 290.7,867.4 291.7,867.2 292.7,867.0 293.7,866.8 294.7,866.6 295.7,866.3 296.7,866.1 297.7,865.9 298.7,865.7 299.7,865.5 300.7,865.2 301.7,865.0 302.7,864.7 303.7,864.5 304.7,864.2 305.7,864.0 306.7,863.7 307.7,863.4 308.7,863.1 309.7,862.8 310.8,862.5 311.8,862.2 312.8,861.9 313.8,861.6 314.8,861.3 315.8,861.0 316.8,860.6 317.8,860.3 318.8,860.0 319.8,859.7 320.8,859.4 321.8,859.1 322.8,858.8 323.8,858.5 324.8,858.3 325.8,858.1 326.8,857.9 327.8,857.7 328.8,857.5 329.8,857.4 330.8,857.3 331.8,857.1 332.8,857.0 333.8,856.9 334.8,856.7 335.8,856.5 336.8,856.3 337.8,856.1 338.8,855.9 339.8,855.6 340.8,855.2 341.8,854.9 342.8,854.4 343.8,854.0 344.8,853.4 345.8,852.8 346.8,852.2 347.8,851.5 348.8,850.7 349.8,849.9 350.8,849.0 351.8,848.1 352.8,847.1 353.8,846.1 354.8,845.1" stroke="#33ee33" stroke-width="1.80"/>
<path d="M55.5,836.5 56.6,836.3 57.6,836.1 58.6,835.9 59.6,835.8 60.6,835.7 61.6,835.7 62.6,835.9 63.6,836.1 64.6,836.4 65.6,836.8 66.6,837.3 67.6,837.8 68.6,838.4 69.6,839.0 70.6,839.6 71.6,840.3 72.6,840.9 73.6,841.6 74.6,842.3 75.6,842.9 76.6,843.5 77.6,844.1 78.6,844.6 79.6,845.1 80.6,845.5 81.6,845.9 82.6,846.1 83.6,846.4 84.6,846.6 85.6,846.7 86.6,846.9 87.6,847.0 88.6,847.1 89.6,847.3 90.6,847.5 91.6,847.7 92.6,848.0 93.6,848.4 94.6,848.8 95.6,849.3 96.6,849.9 97.6,850.7 98.6,851.5 99.6,852.5 100.6,853.6 101.6,854.9 102.6,856.3 103.6,857.9 104.6,859.7 105.6,861.6 106.6,863.6 107.6,865.7 108.6,867.8 109.6,870.0 110.6,872.2 111.6,874.4 112.6,876.7 113.6,878.8 114.6,881.0 115.6,883.0 116.6,885.0 117.6,886.9 118.6,888.7 119.6,890.4 120.6,892.1 121.6,893.7 122.6,895.3 123.6,896.9 124.6,898.4 125.6,900.0 126.6,901.5 127.6,903.1 128.6,904.7 129.6,906.3 130.6,908.0 131.6,909.8 132.6,911.6 133.6,913.5 134.6,915.5 135.6,917.6 136.6,919.9 137.6,922.2 138.6,924.7 139.6,927.4 140.6,930.2 141.6,933.1 142.6,936.2 143.6,939.3 144.6,942.3 145.6,945.3 146.6,948.2 147.6,951.0 148.6,953.6 149.6,955.9 150.6,958.1 151.6,960.2 152.6,962.0 153.6,963.6 154.6,964.9 155.6,966.1 156.6,967.0 157.6,967.8 158.6,968.3 159.6,968.7 160.6,969.0 161.6,969.1 162.6,969.1 163.6,969.0 164.6,968.8 165.6,968.6 166.6,968.1 167.6,967.6 168.6,966.8 169.6,965.9 170.6,964.7 171.6,963.3 172.6,961.6 173.6,959.7 174.6,957.5 175.6,955.3 176.6,952.9 177.6,950.4 178.6,947.8 179.6,945.3 180.6,942.8 181.6,940.4 182.6,938.0 183.7,935.8 184.7,933.6 185.7,931.5 186.7,929.4 187.7,927.4 188.7,925.3 189.7,923.3 190.7,921.2 191.7,919.2 192.7,917.0 193.7,914.9 194.7,912.8 195.7,910.8 196.7,908.8 197.7,906.8 198.7,905.0 199.7,903.3 200.7,901.8 201.7,900.3 202.7,899.0 203.7,897.8 204.7,896.7 205.7,895.6 206.7,894.7 207.7,893.7 208.7,892.8 209.7,891.9 210.7,891.0 211.7,890.2 212.7,889.3 213.7,888.5 214.7,887.7 215.7,886.9 216.7,886.2 217.7,885.4 218.7,884.7 219.7,884.0 220.7,883.4 221.7,882.7 222.7,882.1 223.7,881.5 224.7,880.9 225.7,880.3 226.7,879.7 227.7,879.2 228.7,878.6 229.7,878.1 230.7,877.6 231.7,877.0 232.7,876.5 233.7,876.0 234.7,875.5 235.7,875.0 236.7,874.6 237.7,874.1 238.7,873.7 239.7,873.3 240.7,873.0 241.7,872.6 242.7,872.3 243.7,872.1 244.7,871.8 245.7,871.7 246.7,871.6 247.7,871.6 248.7,871.6 249.7,871.8 250.7,872.0 251.7,872.3 252.7,872.7 253.7,873.0 254.7,873.3 255.7,873.5 256.7,873.7 257.7,873.7 258.7,873.5 259.7,873.2 260.7,872.8 261.7,872.3 262.7,871.7 263.7,871.1 264.7,870.4 265.7,869.8 266.7,869.1 267.7,868.5 268.7,867.9 269.7,867.4 270.7,867.0 271.7,866.7 272.7,866.5 273.7,866.5 274.7,866.6 275.7,866.8 276.7,867.1 277.7,867.5 278.7,867.9 279.7,868.3 280.7,868.8 281.7,869.2 282.7,869.6 283.7,870.0 284.7,870.3 285.7,870.6 286.7,870.7 287.7,870.7 288.7,870.6 289.7,870.4 290.7,870.0 291.7,869.5 292.7,869.0 293.7,868.3 294.7,867.6 295.7,866.9 296.7,866.2 297.7,865.4 298.7,864.7 299.7,864.0 300.7,863.4 301.7,862.7 302.7,862.1 303.7,861.6 304.7,861.1 305.7,860.6 306.7,860.2 307.7,859.8 308.7,859.5 309.7,859.2 310.8,859.0 311.8,858.8 312.8,858.7 313.8,858.6 314.8,858.5 315.8,858.5 316.8,858.5 317.8,858.5 318.8,858.6 319.8,858.7 320.8,858.8 321.8,858.9 322.8,859.0 323.8,859.1 324.8,859.1 325.8,859.2 326.8,859.2 327.8,859.1 328.8,859.0 329.8,858.8 330.8,858.5 331.8,858.1 332.8,857.6 333.8,857.0 334.8,856.3 335.8,855.5 336.8,854.6 337.8,853.7 338.8,852.7 339.8,851.7 340.8,850.7 341.8,849.7 342.8,848.8 343.8,847.9 344.8,847.1 345.8,846.4 346.8,845.7 347.8,845.1 348.8,844.5 349.8,844.0 350.8,843.5 351.8,843.1 352.8,842.6 353.8,842.2 354.8,841.8" stroke="#1010ff" stroke-width="2.00"/>
<path d="M55.5,844.0 56.6,843.2 57.6,842.5 58.6,841.8 59.6,841.1 60.6,840.4 61.6,839.9 62.6,839.4 63.6,839.0 64.6,838.7 65.6,838.5 66.6,838.4 67.6,838.3 68.6,838.3 69.6,838.2 70.6,838.3 71.6,838.3 72.6,838.3 73.6,838.4 74.6,838.4 75.6,838.4 76.6,838.4 77.6,838.3 78.6,838.2 79.6,838.2 80.6,838.3 81.6,838.4 82.6,838.6 83.6,838.9 84.6,839.4 85.6,840.1 86.6,840.9 87.6,841.9 88.6,843.1 89.6,844.5 90.6,846.1 91.6,847.8 92.6,849.8 93.6,851.8 94.6,853.9 95.6,856.0 96.6,858.0 97.6,860.0 98.6,861.7 99.6,863.3 100.6,864.7 101.6,865.9 102.6,867.0 103.6,867.9 104.6,868.8 105.6,869.5 106.6,870.2 107.6,870.9 108.6,871.5 109.6,872.2 110.6,873.0 111.6,873.8 112.6,874.7 113.6,875.7 114.6,876.9 115.6,878.2 116.6,879.8 117.6,881.6 118.6,883.6 119.6,885.9 120.6,888.5 121.6,891.4 122.6,894.6 123.6,898.1 124.6,902.0 125.6,906.2 126.6,910.6 127.6,915.1 128.6,919.6 129.6,924.1 130.6,928.4 131.6,932.4 132.6,936.2 133.6,939.7 134.6,943.0 135.6,946.2 136.6,949.3 137.6,952.3 138.6,955.5 139.6,958.7 140.6,962.1 141.6,965.6 142.6,969.2 143.6,972.9 144.6,976.6 145.6,980.2 146.6,983.7 147.6,987.0 148.6,990.2 149.6,993.2 150.6,996.0 151.6,998.7 152.6,1001.3 153.6,1003.7 154.6,1006.1 155.6,1008.4 156.6,1010.5 157.6,1012.4 158.6,1014.1 159.6,1015.6 160.6,1016.9 161.6,1017.8 162.6,1018.5 163.6,1018.8 164.6,1018.8 165.6,1018.5 166.6,1017.9 167.6,1016.9 168.6,1015.7 169.6,1014.1 170.6,1012.2 171.6,1010.0 172.6,1007.5 173.6,1004.8 174.6,1001.8 175.6,998.8 176.6,995.6 177.6,992.3 178.6,988.9 179.6,985.6 180.6,982.2 181.6,978.8 182.6,975.4 183.7,972.0 184.7,968.7 185.7,965.4 186.7,962.2 187.7,959.1 188.7,956.0 189.7,952.9 190.7,949.8 191.7,946.7 192.7,943.6 193.7,940.5 194.7,937.3 195.7,934.0 196.7,930.7 197.7,927.3 198.7,924.0 199.7,920.5 200.7,917.1 201.7,913.8 202.7,910.4 203.7,907.2 204.7,904.0 205.7,900.9 206.7,897.9 207.7,895.1 208.7,892.5 209.7,890.1 210.7,887.9 211.7,886.0 212.7,884.4 213.7,882.9 214.7,881.7 215.7,880.4 216.7,879.2 217.7,878.0 218.7,877.0 219.7,876.2 220.7,875.9 221.7,876.0 222.7,876.5 223.7,877.2 224.7,878.0 225.7,878.6 226.7,879.1 227.7,879.3 228.7,879.4 229.7,879.3 230.7,879.1 231.7,878.7 232.7,878.2 233.7,877.6 234.7,877.0 235.7,876.3 236.7,875.7 237.7,875.0 238.7,874.5 239.7,874.0 240.7,873.7 241.7,873.5 242.7,873.5 243.7,873.6 244.7,873.8 245.7,874.0 246.7,874.3 247.7,874.6 248.7,874.9 249.7,875.1 250.7,875.3 251.7,875.4 252.7,875.4 253.7,875.1 254.7,874.7 255.7,874.0 256.7,873.1 257.7,871.9 258.7,870.6 259.7,869.1 260.7,867.7 261.7,866.3 262.7,865.1 263.7,864.1 264.7,863.3 265.7,862.6 266.7,862.0 267.7,861.4 268.7,861.0 269.7,860.5 270.7,860.0 271.7,859.6 272.7,859.1 273.7,858.7 274.7,858.3 275.7,858.0 276.7,857.6 277.7,857.3 278.7,857.0 279.7,856.8 280.7,856.6 281.7,856.5 282.7,856.4 283.7,856.4 284.7,856.4 285.7,856.5 286.7,856.6 287.7,856.8 288.7,857.0 289.7,857.3 290.7,857.6 291.7,858.0 292.7,858.5 293.7,858.9 294.7,859.5 295.7,860.0 296.7,860.6 297.7,861.3 298.7,862.0 299.7,862.7 300.7,863.4 301.7,864.2 302.7,864.9 303.7,865.5 304.7,866.1 305.7,866.6 306.7,867.0 307.7,867.2 308.7,867.3 309.7,867.3 310.8,867.0 311.8,866.6 312.8,866.1 313.8,865.5 314.8,864.7 315.8,864.0 316.8,863.1 317.8,862.3 318.8,861.5 319.8,860.7 320.8,860.0 321.8,859.3 322.8,858.7 323.8,858.1 324.8,857.7 325.8,857.3 326.8,857.1 327.8,857.0 328.8,856.9 329.8,856.8 330.8,856.7 331.8,856.6 332.8,856.4 333.8,856.0 334.8,855.5 335.8,854.7 336.8,853.7 337.8,852.6 338.8,851.4 339.8,850.0 340.8,848.7 341.8,847.3 342.8,846.0 343.8,844.8 344.8,843.7 345.8,842.7 346.8,841.9 347.8,841.0 348.8,840.3 349.8,839.6 350.8,839.0 351.8,838.5 352.8,837.9 353.8,837.4 354.8,836.9" stroke="#ff1010" stroke-width="2.00"/>
</g>
<text x="205.75" y="1081.00" font-size="16.50" fill="#1a1a1a" text-anchor="middle">Wavelength (nm)</text>
<text transform="translate(28.50,918.50) rotate(-90)" font-size="16.50" fill="#1a1a1a" text-anchor="middle">&#916;R (%)</text>
<rect x="244.30" y="924.30" width="83.50" height="75.60" fill="#fff" stroke="#888" stroke-width="1"/>
<line x1="245.70" y1="935.60" x2="277.30" y2="935.60" stroke="#ff1010" stroke-width="1.80" />
<text x="280.90" y="940.35" font-size="13.20" fill="#1a1a1a" text-anchor="start">300 &#956;M</text>
<line x1="245.70" y1="953.40" x2="277.30" y2="953.40" stroke="#1010ff" stroke-width="1.80" />
<text x="280.90" y="958.15" font-size="13.20" fill="#1a1a1a" text-anchor="start">100 &#956;M</text>
<line x1="245.70" y1="972.20" x2="277.30" y2="972.20" stroke="#33ee33" stroke-width="1.80" />
<text x="280.90" y="976.95" font-size="13.20" fill="#1a1a1a" text-anchor="start">30 &#956;M</text>
<line x1="245.70" y1="990.60" x2="277.30" y2="990.60" stroke="#ff8a1a" stroke-width="1.80" />
<text x="280.90" y="995.35" font-size="13.20" fill="#1a1a1a" text-anchor="start">10 &#956;M</text>
<text x="21.10" y="803.43" font-size="18.44" fill="#111" textLength="24.10" lengthAdjust="spacingAndGlyphs">(d)</text>
<rect x="392.00" y="802.00" width="297.00" height="239.00" fill="none" stroke="#000" stroke-width="2"/>
<line x1="392.00" y1="1041.00" x2="392.00" y2="1036.00" stroke="#000" stroke-width="1.60" />
<text x="392.00" y="1058.3" font-size="13.5" fill="#1a1a1a" text-anchor="middle">0</text>
<line x1="437.72" y1="1041.00" x2="437.72" y2="1036.00" stroke="#000" stroke-width="1.60" />
<text x="437.72" y="1058.3" font-size="13.5" fill="#1a1a1a" text-anchor="middle">50</text>
<line x1="483.43" y1="1041.00" x2="483.43" y2="1036.00" stroke="#000" stroke-width="1.60" />
<text x="483.43" y="1058.3" font-size="13.5" fill="#1a1a1a" text-anchor="middle">100</text>
<line x1="529.14" y1="1041.00" x2="529.14" y2="1036.00" stroke="#000" stroke-width="1.60" />
<text x="529.14" y="1058.3" font-size="13.5" fill="#1a1a1a" text-anchor="middle">150</text>
<line x1="574.86" y1="1041.00" x2="574.86" y2="1036.00" stroke="#000" stroke-width="1.60" />
<text x="574.86" y="1058.3" font-size="13.5" fill="#1a1a1a" text-anchor="middle">200</text>
<line x1="620.58" y1="1041.00" x2="620.58" y2="1036.00" stroke="#000" stroke-width="1.60" />
<text x="620.58" y="1058.3" font-size="13.5" fill="#1a1a1a" text-anchor="middle">250</text>
<line x1="666.29" y1="1041.00" x2="666.29" y2="1036.00" stroke="#000" stroke-width="1.60" />
<text x="666.29" y="1058.3" font-size="13.5" fill="#1a1a1a" text-anchor="middle">300</text>
<line x1="414.86" y1="1041.00" x2="414.86" y2="1038.00" stroke="#000" stroke-width="1.60" />
<line x1="460.57" y1="1041.00" x2="460.57" y2="1038.00" stroke="#000" stroke-width="1.60" />
<line x1="506.29" y1="1041.00" x2="506.29" y2="1038.00" stroke="#000" stroke-width="1.60" />
<line x1="552.00" y1="1041.00" x2="552.00" y2="1038.00" stroke="#000" stroke-width="1.60" />
<line x1="597.72" y1="1041.00" x2="597.72" y2="1038.00" stroke="#000" stroke-width="1.60" />
<line x1="643.43" y1="1041.00" x2="643.43" y2="1038.00" stroke="#000" stroke-width="1.60" />
<line x1="689.15" y1="1041.00" x2="689.15" y2="1038.00" stroke="#000" stroke-width="1.60" />
<line x1="392.00" y1="1032.50" x2="397.00" y2="1032.50" stroke="#000" stroke-width="1.60" />
<text x="386.5" y="1037.40" font-size="13.5" fill="#1a1a1a" text-anchor="end">2</text>
<line x1="392.00" y1="955.10" x2="397.00" y2="955.10" stroke="#000" stroke-width="1.60" />
<text x="386.5" y="960.00" font-size="13.5" fill="#1a1a1a" text-anchor="end">4</text>
<line x1="392.00" y1="1011.80" x2="395.00" y2="1011.80" stroke="#000" stroke-width="1.60" />
<text x="540.5" y="1080.5" font-size="16" fill="#1a1a1a" text-anchor="middle">Wavelength (nm)</text>
<text transform="translate(376,921.3) rotate(-90)" font-size="15" fill="#1a1a1a" text-anchor="middle">exp(|&#916;R|)</text>
<rect x="398.34" y="1036.28" width="5.6" height="5.6" fill="#000"/>
<rect x="416.63" y="1022.73" width="5.6" height="5.6" fill="#000"/>
<line x1="483.43" y1="982.77" x2="483.43" y2="994.77" stroke="#333" stroke-width="1.00" />
<line x1="480.63" y1="982.77" x2="486.23" y2="982.77" stroke="#333" stroke-width="1.00" />
<line x1="480.63" y1="994.77" x2="486.23" y2="994.77" stroke="#333" stroke-width="1.00" />
<rect x="480.63" y="985.97" width="5.6" height="5.6" fill="#000"/>
<line x1="666.29" y1="845.67" x2="666.29" y2="875.67" stroke="#333" stroke-width="1.00" />
<line x1="663.49" y1="845.67" x2="669.09" y2="845.67" stroke="#333" stroke-width="1.00" />
<line x1="663.49" y1="875.67" x2="669.09" y2="875.67" stroke="#333" stroke-width="1.00" />
<rect x="663.49" y="857.87" width="5.6" height="5.6" fill="#000"/>
<line x1="399.7" y1="1040.0" x2="666.3" y2="860.9" stroke="#ff1010" stroke-width="1.8"/>
<text x="533.8" y="860" font-size="13.4" fill="#1a1a1a" text-anchor="middle">R=0.992</text>
<text x="538.2" y="877.8" font-size="13.45" fill="#1a1a1a" text-anchor="middle">y=0.3730x-0.3423</text>
<text x="363.50" y="805.72" font-size="20.36" fill="#111" textLength="22.40" lengthAdjust="spacingAndGlyphs">(e)</text>
</svg></body></html>
